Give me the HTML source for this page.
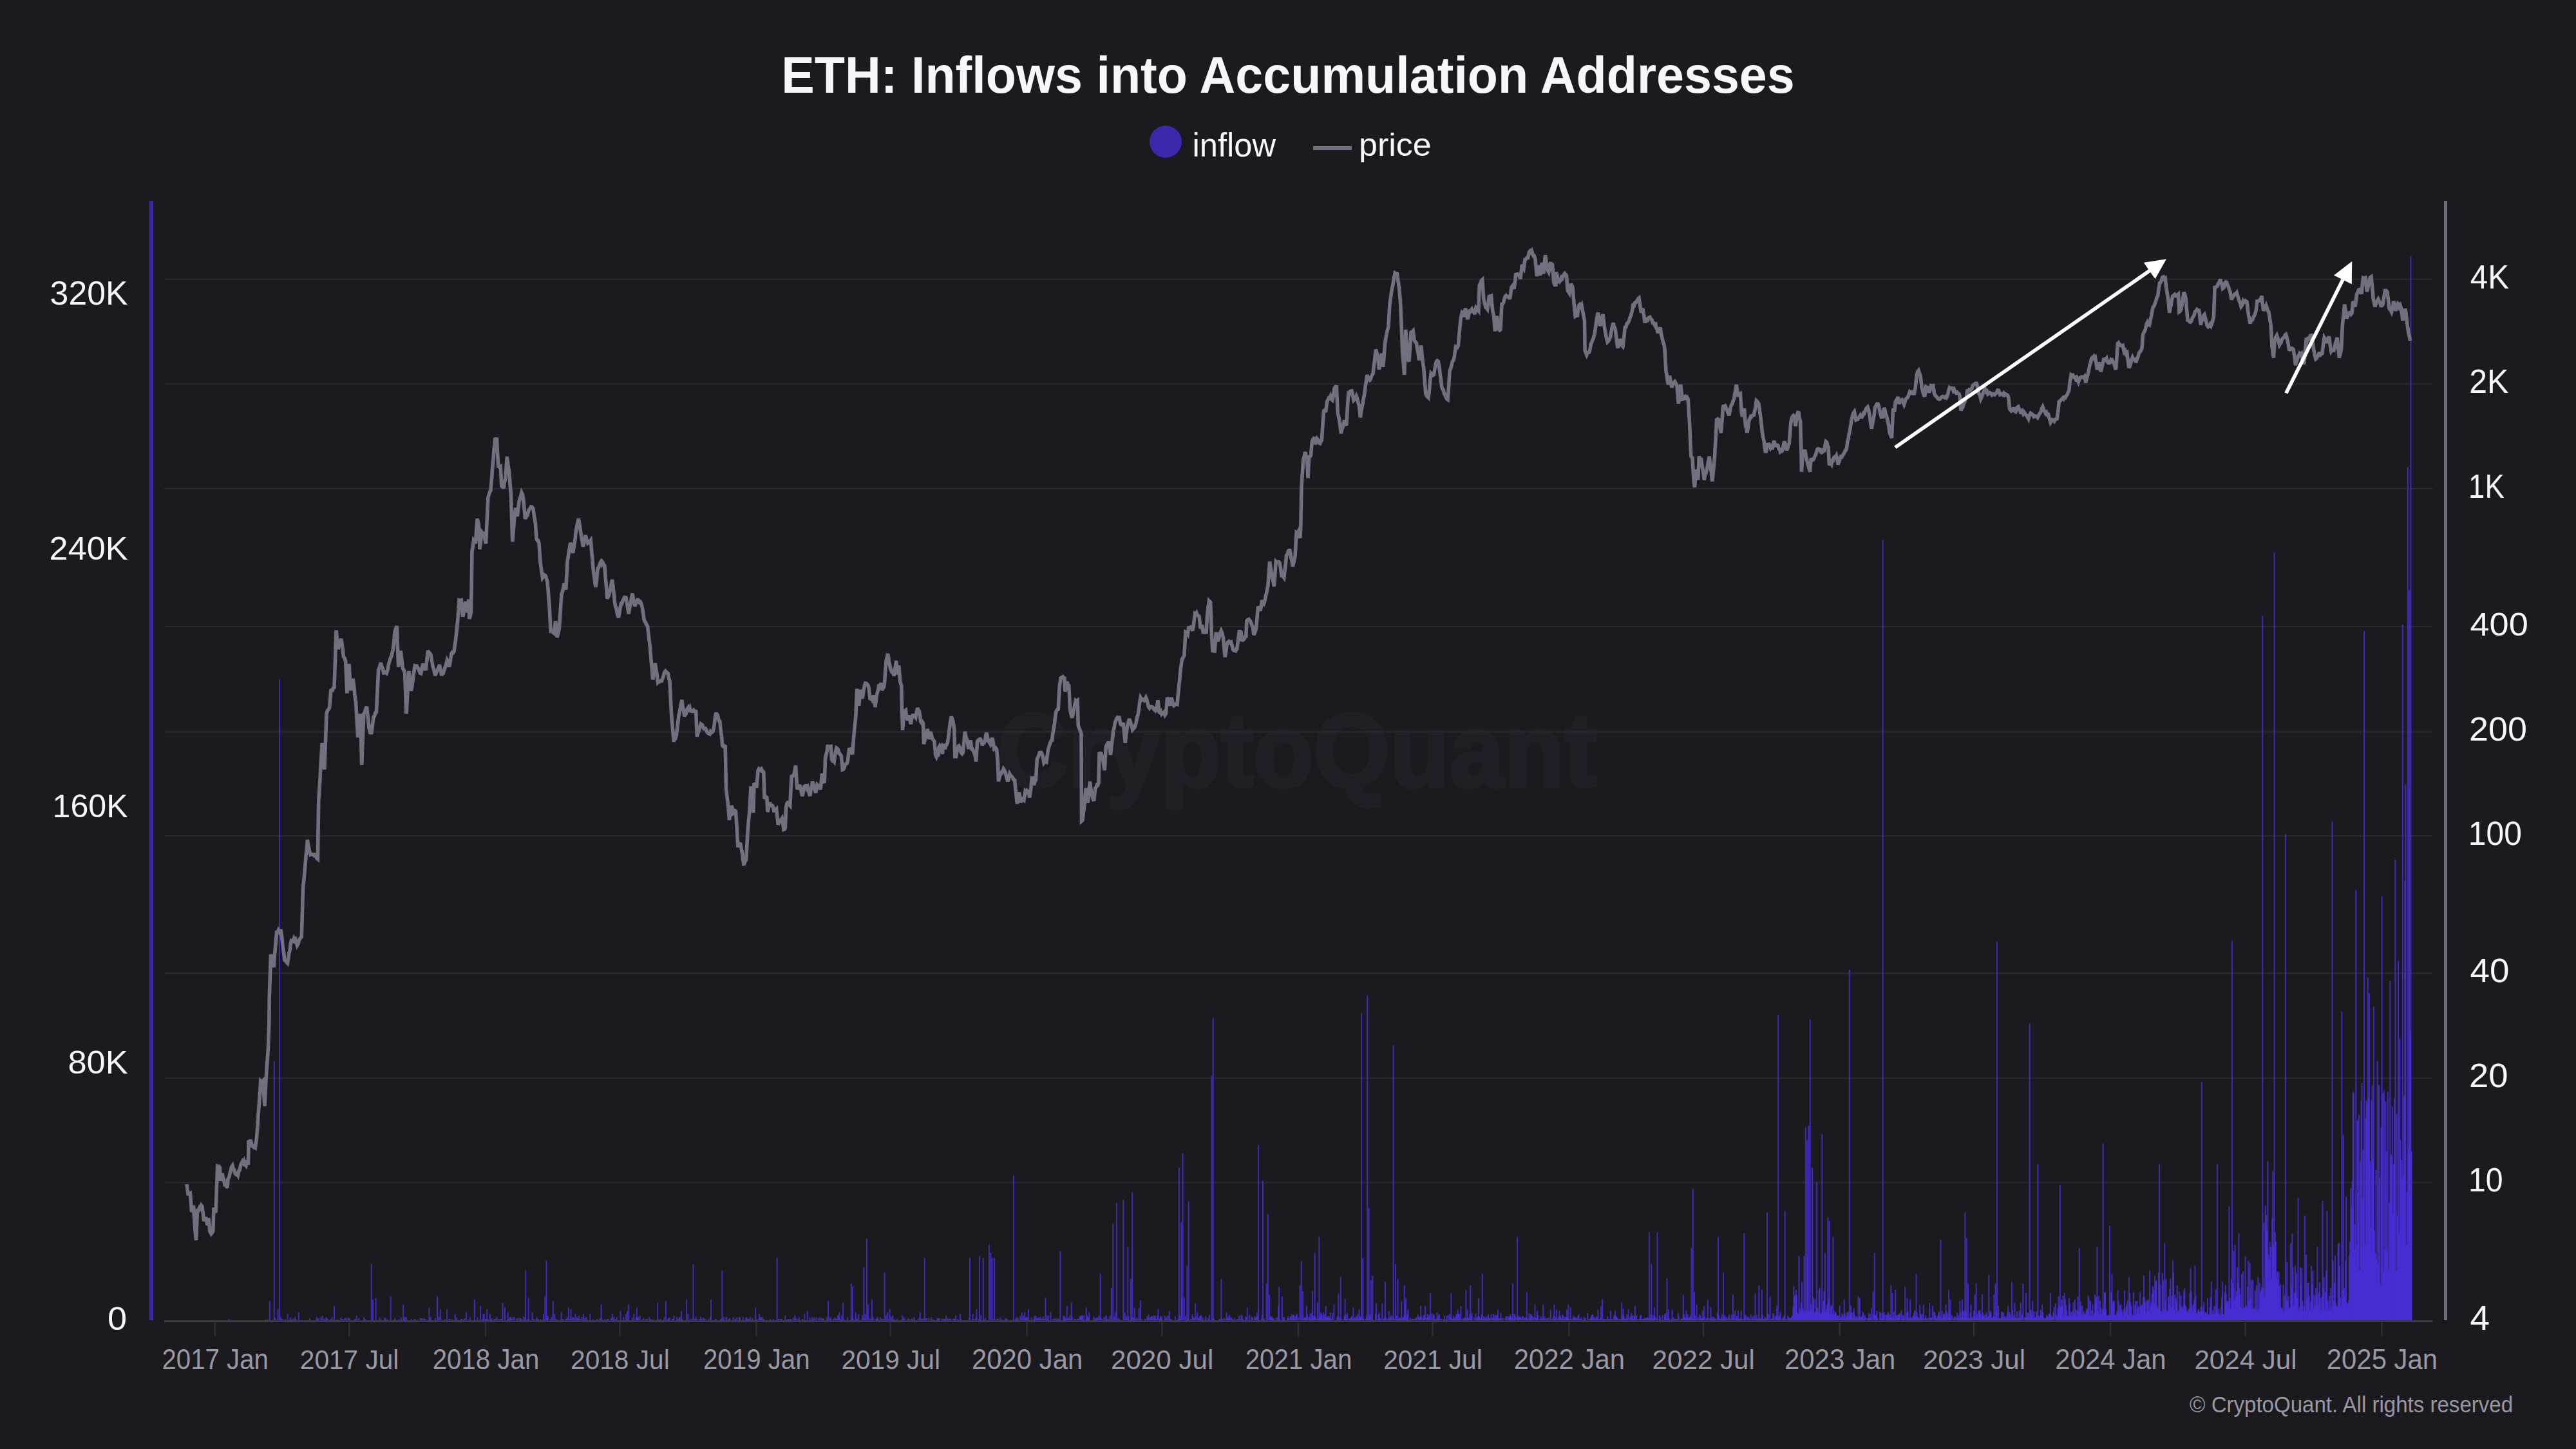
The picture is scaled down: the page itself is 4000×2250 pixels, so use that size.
<!DOCTYPE html><html><head><meta charset="utf-8"><style>html,body{margin:0;padding:0;background:#1b1a1f;}svg{display:block}text{font-family:"Liberation Sans",sans-serif}</style></head><body>
<svg width="4000" height="2250" viewBox="0 0 4000 2250">
<rect width="4000" height="2250" fill="#1b1a1f"/>
<text transform="matrix(0.8961 0 0 0.9545 1548.73 1220.59)" font-size="170" font-weight="bold" fill="#1f1f25" stroke="#1f1f25" stroke-width="6" stroke-linejoin="round">CryptoQuant</text>
<rect x="255" y="432.7" width="3522" height="2" fill="#2a2a30"/>
<rect x="255" y="595.4" width="3522" height="2" fill="#2a2a30"/>
<rect x="255" y="757.6" width="3522" height="2" fill="#2a2a30"/>
<rect x="255" y="972.1" width="3522" height="2" fill="#2a2a30"/>
<rect x="255" y="1135.4" width="3522" height="2" fill="#2a2a30"/>
<rect x="255" y="1297.1" width="3522" height="2" fill="#2a2a30"/>
<rect x="255" y="1510.4" width="3522" height="2" fill="#2a2a30"/>
<rect x="255" y="1673.2" width="3522" height="2" fill="#2a2a30"/>
<rect x="255" y="1835.4" width="3522" height="2" fill="#2a2a30"/>
<path d="M412.0 2049.0V2050M418.9 2020.3V2050M423.5 2049.0V2050M425.8 1648.0V2050M437.3 2049.0V2050M439.6 2049.0V2050M446.6 2040.0V2050M451.2 2045.4V2050M458.1 2044.6V2050M481.1 2047.3V2050M492.6 2047.5V2050M494.9 2046.9V2050M499.5 2049.0V2050M501.8 2049.0V2050M506.4 2045.0V2050M508.7 2048.3V2050M513.3 2048.0V2050M515.6 2045.0V2050M522.6 2049.0V2050M524.9 2048.9V2050M529.5 2045.9V2050M531.8 2048.0V2050M538.7 2049.0V2050M541.0 2046.0V2050M543.3 2047.3V2050M552.5 2049.0V2050M557.1 2046.9V2050M589.4 2045.4V2050M591.7 2049.0V2050M598.6 2046.2V2050M619.3 2048.4V2050M626.2 2025.6V2050M628.5 2045.0V2050M630.8 2044.9V2050M644.6 2048.3V2050M649.2 2048.9V2050M653.8 2048.9V2050M656.1 2048.5V2050M658.4 2046.7V2050M660.7 2048.9V2050M667.7 2048.9V2050M679.2 2013.2V2050M681.5 2044.6V2050M683.8 2033.0V2050M686.1 2049.0V2050M690.7 2048.4V2050M693.0 2048.9V2050M697.6 2047.9V2050M702.2 2049.0V2050M706.8 2040.0V2050M709.1 2045.9V2050M716.0 2048.0V2050M720.6 2047.5V2050M727.5 2049.0V2050M729.8 2045.5V2050M736.8 2017.8V2050M741.4 2045.4V2050M746.0 2028.0V2050M750.6 2040.0V2050M755.2 2048.6V2050M757.5 2048.5V2050M766.7 2048.0V2050M769.0 2048.0V2050M771.3 2045.0V2050M773.6 2047.4V2050M775.9 2048.4V2050M778.2 2048.0V2050M780.5 2022.9V2050M789.7 2047.5V2050M792.0 2045.2V2050M794.3 2048.0V2050M796.6 2045.1V2050M798.9 2045.0V2050M805.8 2049.0V2050M808.2 2046.5V2050M812.8 2044.7V2050M815.1 2045.4V2050M819.7 2047.9V2050M826.6 2037.8V2050M833.5 2045.0V2050M835.8 2047.6V2050M849.6 2047.0V2050M854.2 2048.0V2050M856.5 2045.0V2050M858.8 2020.3V2050M861.1 2040.0V2050M863.4 2047.8V2050M874.9 2049.0V2050M879.5 2048.3V2050M886.5 2033.0V2050M888.8 2045.0V2050M891.1 2045.7V2050M893.4 2040.0V2050M895.7 2045.0V2050M898.0 2048.9V2050M900.3 2048.7V2050M916.4 2040.0V2050M921.0 2048.5V2050M932.5 2046.5V2050M934.8 2049.0V2050M939.4 2048.0V2050M944.0 2048.0V2050M948.6 2047.3V2050M950.9 2040.0V2050M953.3 2045.0V2050M955.6 2048.0V2050M957.9 2044.9V2050M971.7 2040.0V2050M974.0 2035.5V2050M976.3 2025.6V2050M985.5 2048.9V2050M987.8 2044.9V2050M990.1 2047.2V2050M992.4 2049.0V2050M997.0 2049.0V2050M999.3 2046.8V2050M1001.6 2048.9V2050M1003.9 2048.0V2050M1008.5 2045.6V2050M1010.8 2047.8V2050M1031.6 2045.0V2050M1033.9 2020.3V2050M1038.5 2046.4V2050M1043.1 2048.8V2050M1045.4 2048.1V2050M1054.6 2046.0V2050M1059.2 2048.7V2050M1066.1 2017.8V2050M1068.4 2040.0V2050M1079.9 2048.5V2050M1082.2 2048.6V2050M1089.1 2048.0V2050M1091.4 2046.0V2050M1093.7 2047.0V2050M1096.0 2048.4V2050M1100.7 2049.0V2050M1103.0 2045.3V2050M1112.2 2048.4V2050M1119.1 2048.6V2050M1121.4 1972.8V2050M1123.7 2045.0V2050M1128.3 2045.0V2050M1132.9 2046.8V2050M1142.1 2047.6V2050M1144.4 2045.2V2050M1149.0 2045.4V2050M1153.6 2045.4V2050M1158.2 2046.0V2050M1160.5 2047.6V2050M1162.8 2047.7V2050M1165.1 2044.7V2050M1174.4 2048.9V2050M1176.7 2048.4V2050M1179.0 2040.0V2050M1181.3 2045.0V2050M1183.6 2045.0V2050M1185.9 2048.0V2050M1206.6 1952.8V2050M1208.9 2048.0V2050M1211.2 2048.0V2050M1213.5 2047.5V2050M1231.9 2046.6V2050M1234.2 2042.7V2050M1236.5 2047.8V2050M1238.8 2048.8V2050M1241.1 2045.5V2050M1245.8 2048.0V2050M1257.3 2045.9V2050M1264.2 2045.6V2050M1271.1 2046.9V2050M1273.4 2045.5V2050M1275.7 2046.8V2050M1278.0 2047.1V2050M1284.9 2048.7V2050M1289.5 2044.8V2050M1294.1 2047.5V2050M1296.4 2045.5V2050M1298.7 2047.5V2050M1301.0 2042.6V2050M1303.3 2037.8V2050M1310.2 2047.7V2050M1321.8 1993.0V2050M1324.1 1998.0V2050M1328.7 2037.8V2050M1331.0 2047.5V2050M1333.3 2040.3V2050M1337.9 2049.0V2050M1342.5 2046.2V2050M1349.4 2049.0V2050M1354.0 2017.8V2050M1356.3 2045.5V2050M1360.9 2047.5V2050M1363.2 2047.5V2050M1372.4 2048.3V2050M1381.6 2032.9V2050M1383.9 2044.8V2050M1386.2 2042.6V2050M1388.5 2048.6V2050M1393.2 2047.5V2050M1400.1 2048.6V2050M1402.4 2048.9V2050M1404.7 2048.2V2050M1409.3 2048.4V2050M1413.9 2048.8V2050M1416.2 2047.5V2050M1418.5 2048.5V2050M1425.4 2048.6V2050M1427.7 2045.6V2050M1432.3 2049.0V2050M1434.6 2048.7V2050M1439.2 2046.7V2050M1441.5 2048.9V2050M1446.1 2045.5V2050M1448.4 2048.9V2050M1455.3 2047.1V2050M1457.6 2047.0V2050M1462.2 2047.3V2050M1466.9 2048.0V2050M1469.2 2042.6V2050M1471.5 2047.1V2050M1473.8 2048.3V2050M1476.1 2047.5V2050M1480.7 2047.5V2050M1483.0 2048.0V2050M1487.6 2048.6V2050M1492.2 2048.1V2050M1506.0 1953.3V2050M1510.6 2040.3V2050M1515.2 2047.0V2050M1519.8 2048.0V2050M1526.7 1953.3V2050M1535.9 1933.0V2050M1538.3 1945.2V2050M1540.6 1953.3V2050M1542.9 2048.8V2050M1547.5 2049.0V2050M1549.8 2048.2V2050M1561.3 2046.8V2050M1563.6 2047.5V2050M1577.4 2047.6V2050M1584.3 2043.8V2050M1586.6 2037.8V2050M1588.9 2042.6V2050M1591.2 2037.8V2050M1593.5 2045.5V2050M1605.0 2048.6V2050M1607.3 2047.3V2050M1609.7 2046.8V2050M1612.0 2048.5V2050M1614.3 2048.8V2050M1616.6 2048.7V2050M1621.2 2047.7V2050M1623.5 2015.5V2050M1625.8 2042.6V2050M1628.1 2043.3V2050M1635.0 2048.7V2050M1639.6 2048.5V2050M1641.9 2047.0V2050M1644.2 2047.5V2050M1646.5 1943.2V2050M1651.1 2043.1V2050M1653.4 2043.6V2050M1655.7 2047.8V2050M1660.3 2048.3V2050M1662.6 2048.7V2050M1664.9 2045.3V2050M1669.5 2048.0V2050M1674.1 2047.5V2050M1676.4 2043.8V2050M1678.7 2042.6V2050M1681.0 2042.6V2050M1683.4 2042.6V2050M1688.0 2042.5V2050M1690.3 2046.1V2050M1701.8 2047.8V2050M1704.1 2045.5V2050M1706.4 2042.6V2050M1708.7 1977.6V2050M1711.0 2047.3V2050M1717.9 2042.4V2050M1731.7 2037.8V2050M1734.0 1868.0V2050M1736.3 2046.7V2050M1738.6 2048.3V2050M1747.8 2048.7V2050M1752.4 2043.9V2050M1757.1 2046.1V2050M1761.7 2031.0V2050M1768.6 2031.0V2050M1770.9 2019.0V2050M1773.2 2048.4V2050M1777.8 2048.0V2050M1782.4 2047.3V2050M1787.0 2046.4V2050M1789.3 2043.7V2050M1791.6 2042.8V2050M1793.9 2043.0V2050M1796.2 2048.1V2050M1798.5 2032.7V2050M1800.8 2047.5V2050M1803.1 2047.4V2050M1810.0 2047.7V2050M1816.9 2047.7V2050M1830.8 1813.6V2050M1833.1 2047.7V2050M1844.6 2047.1V2050M1849.2 2047.8V2050M1851.5 2040.7V2050M1853.8 2046.8V2050M1856.1 2023.4V2050M1858.4 2044.4V2050M1860.7 2048.3V2050M1863.0 2043.5V2050M1865.3 2042.0V2050M1867.6 2046.0V2050M1872.2 2043.9V2050M1876.8 2048.5V2050M1881.4 1670.4V2050M1883.7 1580.7V2050M1892.9 2047.9V2050M1895.2 2047.6V2050M1897.5 2047.3V2050M1904.5 2038.0V2050M1906.8 2044.5V2050M1909.1 2041.9V2050M1913.7 2047.9V2050M1920.6 2048.5V2050M1925.2 2048.0V2050M1927.5 2041.5V2050M1929.8 2047.8V2050M1934.4 2044.3V2050M1936.7 2030.3V2050M1943.6 2044.6V2050M1948.2 2044.1V2050M1950.5 2047.1V2050M1952.8 2044.6V2050M1959.7 2041.8V2050M1966.6 1993.0V2050M1968.9 1885.4V2050M1971.2 2010.3V2050M1973.5 2044.0V2050M1975.9 2046.0V2050M1978.2 2047.6V2050M1985.1 2027.6V2050M1987.4 2048.0V2050M1994.3 2045.7V2050M1998.9 2046.7V2050M2001.2 2047.7V2050M2003.5 2044.1V2050M2005.8 2040.7V2050M2008.1 2041.6V2050M2010.4 2047.5V2050M2012.7 2041.8V2050M2021.9 2047.9V2050M2024.2 2047.3V2050M2026.5 2047.1V2050M2028.8 2027.6V2050M2033.4 2045.0V2050M2035.7 2047.2V2050M2038.0 2005.0V2050M2040.3 2042.5V2050M2042.6 2044.6V2050M2047.3 2047.9V2050M2049.6 2044.7V2050M2051.9 2040.2V2050M2054.2 2047.9V2050M2056.5 2040.5V2050M2058.8 2027.6V2050M2061.1 2045.4V2050M2063.4 2045.6V2050M2065.7 2038.4V2050M2068.0 2046.8V2050M2077.2 2043.2V2050M2081.8 1982.7V2050M2086.4 2048.0V2050M2088.7 2017.2V2050M2091.0 2048.0V2050M2095.6 2048.0V2050M2097.9 2045.3V2050M2100.2 2047.5V2050M2102.5 2047.8V2050M2104.8 2046.9V2050M2107.1 2045.3V2050M2109.4 2047.5V2050M2111.7 2043.5V2050M2114.0 1573.2V2050M2116.3 1953.4V2050M2121.0 2047.9V2050M2123.3 1545.5V2050M2125.6 1875.7V2050M2127.9 2045.6V2050M2137.1 2023.4V2050M2139.4 2047.9V2050M2141.7 2039.3V2050M2144.0 2047.3V2050M2146.3 2023.4V2050M2148.6 2047.8V2050M2150.9 1990.6V2050M2155.5 2047.2V2050M2157.8 2047.8V2050M2160.1 2042.1V2050M2162.4 2044.6V2050M2164.7 2047.7V2050M2167.0 1963.0V2050M2169.3 2048.1V2050M2171.6 2047.7V2050M2173.9 2045.7V2050M2176.2 2020.7V2050M2178.5 2044.5V2050M2180.8 1995.5V2050M2183.1 2015.5V2050M2185.4 2040.3V2050M2190.0 2045.7V2050M2192.4 2047.9V2050M2194.7 2047.9V2050M2197.0 2048.0V2050M2199.3 2045.8V2050M2201.6 2040.7V2050M2203.9 2045.1V2050M2206.2 2027.6V2050M2210.8 2042.2V2050M2213.1 2027.6V2050M2215.4 2046.5V2050M2217.7 2046.0V2050M2220.0 2047.1V2050M2226.9 2042.2V2050M2231.5 2038.0V2050M2233.8 2042.5V2050M2238.4 2048.1V2050M2243.0 2043.0V2050M2245.3 2048.1V2050M2252.2 2046.0V2050M2254.5 2048.0V2050M2256.8 2042.8V2050M2259.1 2047.5V2050M2261.4 2040.3V2050M2263.7 2033.5V2050M2266.1 2040.0V2050M2268.4 2028.2V2050M2273.0 2047.7V2050M2275.3 2047.3V2050M2277.6 2045.8V2050M2279.9 2046.7V2050M2282.2 2040.2V2050M2284.5 2043.2V2050M2289.1 2045.7V2050M2291.4 2039.0V2050M2293.7 2045.6V2050M2296.0 2015.6V2050M2298.3 2046.5V2050M2300.6 2040.4V2050M2302.9 2048.2V2050M2305.2 2048.1V2050M2307.5 2046.9V2050M2309.8 2048.3V2050M2312.1 2046.4V2050M2314.4 2046.4V2050M2319.0 2040.1V2050M2321.3 2042.0V2050M2323.6 2041.7V2050M2325.9 2033.5V2050M2328.2 2047.5V2050M2330.5 2039.0V2050M2337.4 2047.0V2050M2339.8 2044.0V2050M2342.1 2044.6V2050M2344.4 2043.4V2050M2346.7 2044.2V2050M2349.0 1993.0V2050M2351.3 2040.3V2050M2353.6 2045.6V2050M2355.9 1920.5V2050M2358.2 2043.6V2050M2360.5 2044.3V2050M2365.1 2044.1V2050M2367.4 2045.8V2050M2369.7 2045.2V2050M2372.0 2047.7V2050M2374.3 2039.0V2050M2376.6 2040.5V2050M2378.9 2043.8V2050M2381.2 2044.6V2050M2383.5 2025.6V2050M2385.8 2047.3V2050M2388.1 2042.4V2050M2390.4 2048.2V2050M2392.7 2044.1V2050M2395.0 2048.4V2050M2399.6 2047.5V2050M2401.9 2046.7V2050M2408.8 2048.3V2050M2411.2 2047.0V2050M2413.5 2025.6V2050M2415.8 2044.6V2050M2420.4 2044.5V2050M2422.7 2043.1V2050M2425.0 2048.5V2050M2427.3 2042.8V2050M2429.6 2044.8V2050M2431.9 2044.8V2050M2434.2 2046.1V2050M2436.5 2047.9V2050M2438.8 2030.0V2050M2443.4 2042.6V2050M2445.7 2044.9V2050M2448.0 2046.6V2050M2450.3 2043.8V2050M2452.6 2048.5V2050M2454.9 2045.6V2050M2459.5 2044.9V2050M2461.8 2046.2V2050M2471.0 2042.8V2050M2473.3 2040.9V2050M2475.6 2045.3V2050M2480.2 2045.9V2050M2484.9 2046.2V2050M2487.2 2048.5V2050M2489.5 2048.4V2050M2494.1 2047.9V2050M2496.4 2044.0V2050M2498.7 2048.3V2050M2501.0 2035.3V2050M2503.3 2047.9V2050M2505.6 2045.3V2050M2507.9 2035.3V2050M2510.2 2044.4V2050M2517.1 2048.0V2050M2519.4 2040.9V2050M2521.7 2044.4V2050M2524.0 2047.3V2050M2526.3 2040.8V2050M2528.6 2033.5V2050M2530.9 2046.4V2050M2533.2 2039.0V2050M2535.5 2042.5V2050M2537.8 2042.8V2050M2540.1 2044.3V2050M2542.4 2048.2V2050M2547.0 2042.7V2050M2549.3 2048.3V2050M2551.6 2048.1V2050M2553.9 2046.1V2050M2556.2 2046.3V2050M2558.6 2045.4V2050M2560.9 1913.3V2050M2563.2 2041.3V2050M2565.5 2047.3V2050M2567.8 2047.7V2050M2570.1 2044.4V2050M2572.4 2047.1V2050M2574.7 2048.3V2050M2577.0 2042.3V2050M2581.6 2041.9V2050M2586.2 2039.0V2050M2588.5 1985.0V2050M2590.8 2033.5V2050M2595.4 2047.3V2050M2600.0 2048.4V2050M2602.3 2047.7V2050M2604.6 2048.3V2050M2606.9 2044.1V2050M2611.5 2047.5V2050M2613.8 2010.2V2050M2616.1 2045.2V2050M2618.4 2035.3V2050M2620.7 2040.6V2050M2623.0 2046.6V2050M2625.3 2042.2V2050M2627.6 2048.3V2050M2630.0 2048.3V2050M2632.3 2042.7V2050M2634.6 2025.6V2050M2636.9 2045.5V2050M2639.2 2040.4V2050M2641.5 2046.5V2050M2643.8 2035.3V2050M2646.1 2028.2V2050M2650.7 2046.2V2050M2655.3 2047.2V2050M2657.6 2047.0V2050M2659.9 2048.1V2050M2662.2 2046.6V2050M2666.8 2039.0V2050M2669.1 2041.6V2050M2671.4 2047.9V2050M2673.7 2040.8V2050M2676.0 1976.0V2050M2678.3 2041.4V2050M2680.6 2045.2V2050M2685.2 2041.0V2050M2687.5 2047.4V2050M2689.8 2048.3V2050M2692.1 2040.5V2050M2694.4 2035.3V2050M2696.7 2043.3V2050M2699.0 2035.3V2050M2701.3 2048.0V2050M2703.7 2035.3V2050M2708.3 1915.0V2050M2710.6 2041.6V2050M2712.9 2044.6V2050M2715.2 2044.6V2050M2722.1 2047.4V2050M2726.7 2048.1V2050M2729.0 2047.7V2050M2731.3 1995.8V2050M2733.6 2047.5V2050M2735.9 2003.0V2050M2738.2 2047.9V2050M2740.5 2045.0V2050M2742.8 2047.3V2050M2745.1 2039.9V2050M2749.7 2048.2V2050M2752.0 2046.7V2050M2754.3 2041.1V2050M2756.6 2044.5V2050M2758.9 2027.4V2050M2761.2 1576.0V2050M2763.5 2042.1V2050M2765.8 2048.0V2050M2768.1 2046.5V2050M2770.4 2042.8V2050M2772.7 2048.2V2050M2777.4 2045.1V2050M2779.7 2047.8V2050M2782.0 2045.1V2050M2784.3 2028.6V2050M2786.6 2013.0V2050M2788.9 2003.0V2050M2791.2 2039.0V2050M2793.5 1950.0V2050M2795.8 2035.4V2050M2798.1 1990.7V2050M2800.4 2034.8V2050M2802.7 2036.2V2050M2805.0 2034.3V2050M2807.3 2032.8V2050M2809.6 2036.5V2050M2811.9 2025.3V2050M2814.2 1813.0V2050M2816.5 2017.4V2050M2818.8 2036.5V2050M2821.1 1835.4V2050M2823.4 2037.9V2050M2825.7 1999.6V2050M2828.0 2039.2V2050M2830.3 2032.2V2050M2832.6 2004.7V2050M2834.9 2037.3V2050M2837.2 2025.1V2050M2839.5 2016.9V2050M2841.8 2040.9V2050M2844.1 2026.6V2050M2846.4 1920.4V2050M2848.8 2040.9V2050M2851.1 2039.0V2050M2853.4 2042.5V2050M2855.7 2047.5V2050M2858.0 2046.2V2050M2860.3 2039.2V2050M2862.6 2045.0V2050M2864.9 2039.5V2050M2867.2 2043.0V2050M2869.5 2044.8V2050M2871.8 1505.8V2050M2874.1 2027.4V2050M2876.4 2046.9V2050M2878.7 2031.3V2050M2881.0 2047.5V2050M2883.3 2044.7V2050M2885.6 2013.0V2050M2887.9 2015.8V2050M2890.2 2044.8V2050M2892.5 2036.8V2050M2894.8 2046.8V2050M2897.1 2046.0V2050M2899.4 2047.5V2050M2901.7 2038.7V2050M2904.0 2039.8V2050M2906.3 2031.3V2050M2908.6 2005.4V2050M2910.9 1945.5V2050M2913.2 2042.4V2050M2915.5 2046.8V2050M2920.1 2039.0V2050M2922.5 2038.7V2050M2924.8 2040.7V2050M2929.4 2041.4V2050M2931.7 2037.2V2050M2934.0 2046.9V2050M2936.3 1995.7V2050M2938.6 2008.1V2050M2940.9 2036.8V2050M2943.2 2003.0V2050M2945.5 2046.0V2050M2947.8 2041.5V2050M2950.1 2039.0V2050M2952.4 2034.8V2050M2954.7 2042.2V2050M2957.0 2047.4V2050M2961.6 2015.8V2050M2963.9 2047.4V2050M2966.2 2017.8V2050M2968.5 2047.3V2050M2970.8 2042.7V2050M2973.1 2034.9V2050M2975.4 1978.0V2050M2977.7 2044.3V2050M2980.0 2047.3V2050M2982.3 2039.6V2050M2984.6 2040.1V2050M2986.9 2025.5V2050M2989.2 2047.0V2050M2991.5 2047.1V2050M2993.8 2046.4V2050M2996.2 2022.8V2050M2998.5 2046.1V2050M3000.8 2027.4V2050M3003.1 2036.0V2050M3005.4 2042.8V2050M3007.7 2047.1V2050M3010.0 2038.9V2050M3012.3 2044.0V2050M3014.6 2047.3V2050M3016.9 2047.1V2050M3019.2 2039.3V2050M3021.5 2025.5V2050M3023.8 2039.3V2050M3026.1 2003.0V2050M3028.4 2017.8V2050M3030.7 2042.0V2050M3033.0 2046.5V2050M3035.3 2044.0V2050M3039.9 2047.1V2050M3042.2 2047.2V2050M3044.5 2037.7V2050M3046.8 2017.8V2050M3049.1 2047.2V2050M3051.4 1882.5V2050M3053.7 1922.3V2050M3056.0 1992.7V2050M3058.3 2047.2V2050M3060.6 2025.5V2050M3062.9 2047.2V2050M3065.2 2034.7V2050M3067.6 2044.0V2050M3069.9 2040.5V2050M3072.2 2035.0V2050M3074.5 2033.7V2050M3076.8 2046.6V2050M3079.1 2038.1V2050M3081.4 2041.4V2050M3083.7 2041.4V2050M3086.0 2045.9V2050M3088.3 1980.3V2050M3090.6 2035.4V2050M3092.9 2046.5V2050M3095.2 2044.0V2050M3097.5 2044.5V2050M3099.8 2036.1V2050M3102.1 2047.1V2050M3104.4 2046.8V2050M3106.7 2047.1V2050M3109.0 2036.7V2050M3111.3 2038.2V2050M3113.6 2044.1V2050M3115.9 2044.5V2050M3118.2 2027.4V2050M3120.5 2037.0V2050M3122.8 2047.1V2050M3125.1 2034.3V2050M3127.4 2042.6V2050M3129.7 2046.5V2050M3132.0 2036.1V2050M3134.3 2046.2V2050M3136.6 2046.0V2050M3138.9 2046.1V2050M3141.3 1992.7V2050M3143.6 2046.1V2050M3145.9 2008.1V2050M3148.2 2038.2V2050M3150.5 2045.1V2050M3152.8 2032.9V2050M3155.1 2042.1V2050M3157.4 2046.2V2050M3159.7 2046.3V2050M3162.0 2036.5V2050M3164.3 1808.0V2050M3166.6 2046.2V2050M3168.9 2033.7V2050M3171.2 2025.5V2050M3173.5 2046.3V2050M3175.8 2046.9V2050M3178.1 2041.6V2050M3180.4 2045.7V2050M3182.7 2039.0V2050M3185.0 2042.5V2050M3187.3 2044.0V2050M3189.6 2029.3V2050M3191.9 2024.0V2050M3194.2 2045.0V2050M3196.5 2013.0V2050M3198.8 1840.0V2050M3201.1 2017.8V2050M3203.4 2012.2V2050M3205.7 2008.1V2050M3208.0 2026.4V2050M3210.3 2043.0V2050M3212.7 2015.6V2050M3215.0 2042.4V2050M3217.3 2042.8V2050M3219.6 2021.9V2050M3221.9 2017.8V2050M3224.2 2043.1V2050M3226.5 2013.0V2050M3228.8 1937.8V2050M3231.1 2021.3V2050M3233.4 2027.4V2050M3235.7 2036.5V2050M3238.0 2040.6V2050M3240.3 2031.4V2050M3242.6 2011.5V2050M3244.9 2043.0V2050M3247.2 2042.9V2050M3249.5 2025.5V2050M3251.8 2039.4V2050M3254.1 2017.0V2050M3256.4 1936.0V2050M3258.7 2012.4V2050M3261.0 2019.6V2050M3263.3 2040.7V2050M3265.6 1775.5V2050M3267.9 2007.0V2050M3270.2 2033.3V2050M3272.5 2042.3V2050M3274.8 2041.3V2050M3277.1 2041.9V2050M3279.4 1978.4V2050M3281.7 2019.9V2050M3284.0 2042.0V2050M3286.4 2039.6V2050M3288.7 2003.4V2050M3291.0 2036.6V2050M3293.3 2024.9V2050M3295.6 2036.8V2050M3297.9 2032.7V2050M3300.2 2036.4V2050M3302.5 2024.8V2050M3304.8 2042.0V2050M3307.1 2008.3V2050M3309.4 2027.3V2050M3311.7 2042.3V2050M3314.0 2042.3V2050M3316.3 2019.8V2050M3318.6 2019.7V2050M3320.9 2028.2V2050M3323.2 2005.8V2050M3325.5 2026.5V2050M3327.8 2014.6V2050M3330.1 2015.2V2050M3332.4 2038.0V2050M3334.7 2019.8V2050M3337.0 2034.8V2050M3339.3 2030.2V2050M3341.6 2009.5V2050M3343.9 2001.0V2050M3346.2 1980.9V2050M3348.5 1988.2V2050M3350.8 2031.3V2050M3353.1 1808.3V2050M3355.4 2036.5V2050M3357.7 1977.0V2050M3360.1 2034.4V2050M3362.4 2019.9V2050M3364.7 2035.2V2050M3367.0 2013.3V2050M3369.3 2001.3V2050M3371.6 2030.7V2050M3373.9 1957.8V2050M3376.2 2033.6V2050M3378.5 2016.0V2050M3380.8 1996.0V2050M3383.1 2035.6V2050M3385.4 2025.6V2050M3387.7 2031.0V2050M3390.0 2032.5V2050M3392.3 2000.4V2050M3394.6 2028.9V2050M3396.9 2037.9V2050M3399.2 2032.4V2050M3401.5 1968.4V2050M3403.8 2026.7V2050M3406.1 2025.1V2050M3408.4 1965.4V2050M3410.7 2040.6V2050M3413.0 2034.2V2050M3415.3 2037.3V2050M3417.6 2029.1V2050M3419.9 2036.7V2050M3422.2 2021.7V2050M3424.5 2037.3V2050M3426.8 2041.3V2050M3429.1 2040.9V2050M3431.5 2030.7V2050M3433.8 1990.6V2050M3436.1 2034.5V2050M3438.4 2028.3V2050M3440.7 2002.2V2050M3443.0 1808.3V2050M3445.3 2032.4V2050M3447.6 2040.5V2050M3449.9 2013.7V2050M3452.2 2041.0V2050M3454.5 2006.3V2050M3456.8 2009.4V2050M3459.1 2020.0V2050M3461.4 1873.0V2050M3463.7 2031.9V2050M3466.0 1461.5V2050M3468.3 1942.6V2050M3470.6 1932.9V2050M3472.9 2005.3V2050M3475.2 1990.9V2050M3477.5 1999.8V2050M3479.8 2030.0V2050M3482.1 2032.7V2050M3484.4 2030.1V2050M3486.7 1950.5V2050M3489.0 2030.7V2050M3491.3 1957.8V2050M3493.6 1961.3V2050M3495.9 1987.7V2050M3498.2 1987.1V2050M3500.5 2031.2V2050M3502.8 2034.2V2050M3505.2 2035.5V2050M3507.5 2033.0V2050M3509.8 2006.7V2050M3512.1 1998.1V2050M3514.4 2000.3V2050M3516.7 2014.2V2050M3519.0 1886.4V2050M3521.3 1803.3V2050M3523.6 1955.0V2050M3525.9 1936.3V2050M3528.2 1892.7V2050M3530.5 1933.3V2050M3532.8 1913.2V2050M3535.1 1985.0V2050M3537.4 1986.2V2050M3539.7 1998.0V2050M3542.0 2031.1V2050M3544.3 2033.5V2050M3546.6 2036.3V2050M3548.9 1295.0V2050M3551.2 1959.8V2050M3553.5 2012.6V2050M3555.8 2031.5V2050M3558.1 1998.5V2050M3560.4 1968.4V2050M3562.7 2008.6V2050M3565.0 2006.3V2050M3567.3 2016.1V2050M3569.6 2035.0V2050M3571.9 1968.0V2050M3574.2 1969.3V2050M3576.5 2035.7V2050M3578.9 1887.6V2050M3581.2 1948.2V2050M3583.5 1992.3V2050M3585.8 2012.5V2050M3588.1 2022.1V2050M3590.4 1993.8V2050M3592.7 2032.0V2050M3595.0 2026.5V2050M3597.3 2009.0V2050M3599.6 2026.2V2050M3601.9 1990.7V2050M3604.2 2033.9V2050M3606.5 1865.1V2050M3608.8 1982.7V2050M3611.1 2005.8V2050M3613.4 1880.6V2050M3615.7 2032.4V2050M3618.0 2033.5V2050M3620.3 2030.4V2050M3622.6 1957.4V2050M3624.9 1991.4V2050M3627.2 2023.6V2050M3629.5 2028.3V2050M3631.8 1929.5V2050M3634.1 2014.3V2050M3636.4 1570.7V2050M3638.7 1762.8V2050M3641.0 2013.2V2050M3643.3 1858.2V2050M3645.6 2025.1V2050M3647.9 1948.8V2050M3650.3 1845.0V2050M3652.6 1833.2V2050M3654.9 1697.0V2050M3657.2 1901.0V2050M3659.5 1934.3V2050M3661.8 1849.9V2050M3664.1 1972.2V2050M3666.4 1710.6V2050M3668.7 1861.2V2050M3671.0 980.0V2050M3673.3 1736.8V2050M3675.6 1713.8V2050M3677.9 1702.7V2050M3680.2 1802.9V2050M3682.5 1708.6V2050M3684.8 1799.1V2050M3687.1 1911.2V2050M3689.4 1817.1V2050M3691.7 1647.6V2050M3694.0 1684.4V2050M3696.3 1994.3V2050M3698.6 1392.0V2050M3700.9 1975.4V2050M3703.2 1940.9V2050M3705.5 1788.2V2050M3707.8 1695.0V2050M3710.1 1867.7V2050M3712.4 1792.9V2050M3714.7 1718.3V2050M3717.0 1808.1V2050M3719.3 1335.0V2050M3721.6 1729.9V2050M3724.0 1492.0V2050M3726.3 1613.2V2050M3728.6 1800.9V2050M3730.9 970.0V2050M3733.2 1701.7V2050M3735.5 1218.0V2050M3737.8 1850.2V2050M3740.1 1781.8V2050M3742.4 1601.0V2050M3744.7 1788.3V2050" stroke="#4a2fe6" stroke-opacity="0.78" stroke-width="2.0" fill="none"/>
<path d="M355.6 2048.0V2050M415.5 2048.9V2050M427.0 2046.0V2050M429.3 2049.0V2050M431.6 2033.0V2050M433.9 1055.0V2050M436.2 2045.3V2050M438.5 2048.2V2050M443.1 2048.5V2050M450.0 2049.0V2050M454.6 2047.3V2050M459.2 2047.8V2050M463.8 2037.8V2050M491.5 2045.0V2050M498.4 2045.0V2050M500.7 2043.0V2050M503.0 2047.5V2050M507.6 2047.1V2050M519.1 2027.7V2050M532.9 2049.0V2050M535.2 2046.8V2050M537.5 2046.3V2050M542.1 2049.0V2050M551.3 2048.1V2050M553.7 2042.7V2050M556.0 2048.8V2050M565.2 2045.2V2050M567.5 2048.2V2050M576.7 1963.0V2050M579.0 2017.8V2050M583.6 2015.5V2050M597.4 2046.2V2050M599.7 2048.6V2050M602.0 2049.0V2050M606.6 2013.2V2050M611.2 2048.9V2050M613.5 2046.7V2050M622.7 2045.8V2050M627.4 2047.8V2050M638.9 2047.8V2050M643.5 2048.1V2050M652.7 2046.4V2050M655.0 2047.0V2050M659.6 2047.9V2050M666.5 2030.4V2050M668.8 2045.0V2050M675.7 2046.6V2050M694.1 2033.0V2050M698.8 2048.0V2050M703.4 2049.0V2050M708.0 2048.9V2050M712.6 2049.0V2050M717.2 2048.1V2050M721.8 2046.9V2050M724.1 2037.8V2050M749.4 2048.0V2050M751.7 2040.0V2050M754.0 2048.0V2050M756.3 2033.0V2050M760.9 2040.0V2050M763.2 2047.1V2050M777.1 2048.9V2050M779.4 2048.8V2050M784.0 2030.4V2050M788.6 2037.8V2050M793.2 2045.0V2050M802.4 2047.2V2050M804.7 2046.8V2050M807.0 2049.0V2050M809.3 2048.0V2050M816.2 1972.8V2050M820.8 2015.5V2050M827.7 2047.3V2050M830.0 2049.0V2050M832.3 2048.2V2050M839.2 2048.0V2050M843.8 2040.0V2050M846.2 2013.2V2050M848.5 1957.6V2050M850.8 2043.0V2050M855.4 2048.8V2050M860.0 2049.0V2050M864.6 2049.0V2050M871.5 2037.8V2050M873.8 2048.0V2050M878.4 2048.0V2050M880.7 2045.0V2050M883.0 2030.4V2050M885.3 2047.7V2050M892.2 2049.0V2050M896.8 2046.4V2050M899.1 2043.0V2050M901.4 2048.0V2050M903.7 2045.0V2050M906.0 2040.0V2050M908.3 2046.8V2050M910.6 2045.0V2050M926.8 2047.7V2050M931.4 2048.0V2050M933.7 2025.6V2050M942.9 2047.8V2050M945.2 2049.0V2050M949.8 2046.6V2050M952.1 2048.9V2050M963.6 2035.5V2050M968.2 2045.0V2050M982.0 2046.6V2050M984.3 2040.0V2050M988.9 2030.4V2050M991.3 2045.0V2050M993.6 2043.0V2050M998.2 2048.9V2050M1002.8 2049.0V2050M1005.1 2047.7V2050M1014.3 2049.0V2050M1021.2 2022.9V2050M1023.5 2049.0V2050M1025.8 2048.0V2050M1030.4 2049.0V2050M1037.3 2047.8V2050M1039.6 2046.1V2050M1044.2 2048.0V2050M1046.5 2043.0V2050M1051.1 2045.0V2050M1053.4 2048.0V2050M1055.7 2045.0V2050M1058.0 2035.5V2050M1060.3 2048.7V2050M1071.9 2048.5V2050M1074.2 2047.7V2050M1076.5 1963.0V2050M1078.8 2047.4V2050M1081.1 2045.0V2050M1085.7 2048.0V2050M1088.0 2045.1V2050M1092.6 2049.0V2050M1099.5 2048.9V2050M1104.1 2017.8V2050M1111.0 2048.3V2050M1120.2 2047.2V2050M1127.1 2046.5V2050M1131.7 2048.0V2050M1138.7 2045.1V2050M1141.0 2049.0V2050M1147.9 2044.8V2050M1159.4 2045.5V2050M1164.0 2049.0V2050M1168.6 2047.1V2050M1173.2 2030.4V2050M1180.1 2047.6V2050M1182.4 2047.1V2050M1196.2 2048.0V2050M1200.8 2048.0V2050M1214.7 2049.0V2050M1219.3 2042.7V2050M1221.6 2048.7V2050M1223.9 2048.0V2050M1226.2 2048.0V2050M1228.5 2048.0V2050M1235.4 2046.3V2050M1240.0 2048.6V2050M1246.9 2049.0V2050M1249.2 2040.0V2050M1253.8 2035.4V2050M1260.7 2045.6V2050M1263.0 2047.3V2050M1265.3 2049.0V2050M1267.6 2045.5V2050M1274.5 2048.9V2050M1276.8 2049.0V2050M1279.1 2047.5V2050M1283.8 2045.5V2050M1286.1 2020.3V2050M1288.4 2047.3V2050M1290.7 2047.5V2050M1295.3 2048.8V2050M1297.6 2048.7V2050M1299.9 2048.7V2050M1302.2 2045.5V2050M1304.5 2048.1V2050M1306.8 2042.6V2050M1309.1 2022.8V2050M1316.0 2045.5V2050M1322.9 2046.4V2050M1325.2 2048.2V2050M1329.8 2048.0V2050M1339.0 2042.6V2050M1341.3 1967.9V2050M1343.6 2040.3V2050M1345.9 1922.9V2050M1348.2 2025.2V2050M1350.5 2047.4V2050M1352.8 2047.5V2050M1355.2 2048.8V2050M1359.8 2048.3V2050M1362.1 2044.9V2050M1366.7 2045.5V2050M1369.0 2047.5V2050M1371.3 2048.4V2050M1373.6 1975.7V2050M1375.9 2042.6V2050M1378.2 2037.8V2050M1380.5 2048.1V2050M1401.2 2042.6V2050M1403.5 2045.5V2050M1410.4 2046.9V2050M1412.7 2049.0V2050M1419.6 2045.2V2050M1428.9 2037.8V2050M1431.2 2047.5V2050M1433.5 2047.5V2050M1435.8 1953.3V2050M1438.1 2046.9V2050M1442.7 2046.8V2050M1447.3 2048.7V2050M1449.6 2049.0V2050M1456.5 2047.5V2050M1458.8 2047.5V2050M1463.4 2048.3V2050M1465.7 2047.5V2050M1468.0 2049.0V2050M1472.6 2049.0V2050M1474.9 2047.6V2050M1479.5 2048.4V2050M1481.8 2048.4V2050M1484.1 2042.6V2050M1486.4 2048.8V2050M1491.0 2040.3V2050M1504.9 2046.0V2050M1509.5 2049.0V2050M1511.8 2048.5V2050M1514.1 2048.9V2050M1516.4 2032.9V2050M1521.0 1950.4V2050M1523.3 2042.6V2050M1527.9 2048.6V2050M1530.2 2046.8V2050M1544.0 1953.3V2050M1546.3 2049.0V2050M1548.6 2047.5V2050M1553.2 2045.7V2050M1555.5 2048.8V2050M1562.4 2048.6V2050M1574.0 1825.2V2050M1576.3 2048.9V2050M1578.6 2045.5V2050M1580.9 2046.8V2050M1587.8 2048.8V2050M1592.4 2047.0V2050M1594.7 2044.9V2050M1597.0 2032.9V2050M1601.6 2045.9V2050M1606.2 2043.5V2050M1608.5 2042.6V2050M1610.8 2046.4V2050M1613.1 2045.5V2050M1615.4 2043.9V2050M1617.7 2047.3V2050M1620.0 2044.2V2050M1631.5 2037.8V2050M1633.8 2048.8V2050M1636.1 2048.0V2050M1638.4 2047.1V2050M1652.3 2045.6V2050M1654.6 2046.7V2050M1656.9 2028.0V2050M1659.2 2046.2V2050M1661.5 2042.6V2050M1663.8 2022.8V2050M1668.4 2047.5V2050M1670.7 2048.7V2050M1673.0 2048.1V2050M1677.6 2045.1V2050M1679.9 2042.9V2050M1686.8 2030.6V2050M1689.1 2045.5V2050M1691.4 2037.8V2050M1698.3 2044.2V2050M1700.6 2045.9V2050M1702.9 2046.4V2050M1707.5 2046.4V2050M1714.4 2045.2V2050M1716.7 2043.8V2050M1719.1 2048.3V2050M1721.4 2047.5V2050M1723.7 2042.6V2050M1726.0 2000.0V2050M1728.3 1900.5V2050M1730.6 2044.4V2050M1744.4 1863.0V2050M1746.7 2037.8V2050M1749.0 2043.8V2050M1751.3 1936.0V2050M1755.9 1986.0V2050M1758.2 1851.0V2050M1760.5 2045.7V2050M1762.8 2048.0V2050M1765.1 2046.3V2050M1767.4 2048.6V2050M1769.7 2048.6V2050M1778.9 2048.5V2050M1781.2 2044.1V2050M1783.5 2040.7V2050M1785.8 2045.3V2050M1788.1 2043.5V2050M1792.8 2044.9V2050M1795.1 2048.6V2050M1797.4 2042.5V2050M1802.0 2043.2V2050M1804.3 2044.1V2050M1808.9 2043.2V2050M1811.2 2045.1V2050M1813.5 2043.1V2050M1815.8 2036.0V2050M1818.1 2047.9V2050M1825.0 2043.9V2050M1829.6 2047.2V2050M1831.9 2041.9V2050M1834.2 1898.0V2050M1836.5 1790.5V2050M1838.8 2015.5V2050M1841.1 2044.1V2050M1843.4 1965.5V2050M1845.7 1865.4V2050M1852.6 2044.3V2050M1854.9 2046.4V2050M1859.5 2038.0V2050M1861.8 2046.4V2050M1864.1 2043.5V2050M1871.1 2048.6V2050M1875.7 2046.6V2050M1878.0 2042.0V2050M1882.6 2048.1V2050M1884.9 2046.9V2050M1896.4 1986.0V2050M1898.7 2048.6V2050M1901.0 2046.6V2050M1903.3 2048.2V2050M1905.6 2046.9V2050M1907.9 2048.6V2050M1910.2 2046.0V2050M1912.5 2046.0V2050M1917.1 2046.8V2050M1921.7 2048.0V2050M1924.0 2043.2V2050M1928.6 2043.0V2050M1935.5 2045.7V2050M1940.2 2042.2V2050M1944.8 2045.2V2050M1949.4 2044.4V2050M1951.7 2038.0V2050M1954.0 1778.0V2050M1958.6 2048.4V2050M1960.9 1833.6V2050M1963.2 2047.3V2050M1967.8 2048.5V2050M1972.4 2045.0V2050M1974.7 2044.4V2050M1977.0 2047.6V2050M1981.6 2046.1V2050M1983.9 2046.0V2050M1986.2 1998.2V2050M1990.8 2013.0V2050M1993.1 2044.7V2050M2000.0 2044.2V2050M2004.6 2045.5V2050M2009.2 2041.6V2050M2011.6 2044.0V2050M2013.9 2039.4V2050M2016.2 2046.5V2050M2018.5 1995.5V2050M2020.8 1958.6V2050M2023.1 2005.0V2050M2025.4 2045.5V2050M2027.7 2045.2V2050M2030.0 2040.3V2050M2032.3 2044.9V2050M2034.6 2039.2V2050M2036.9 2038.9V2050M2039.2 2045.8V2050M2041.5 1945.4V2050M2043.8 2047.4V2050M2046.1 2022.4V2050M2048.4 1920.6V2050M2050.7 2037.9V2050M2053.0 2043.4V2050M2055.3 2038.1V2050M2057.6 2045.2V2050M2059.9 2045.1V2050M2062.2 2042.9V2050M2064.5 2045.6V2050M2066.8 2047.8V2050M2069.1 2039.0V2050M2071.4 2025.8V2050M2076.0 2045.6V2050M2078.3 2008.6V2050M2080.6 2045.3V2050M2083.0 2047.9V2050M2087.6 2043.2V2050M2089.9 2041.5V2050M2092.2 2038.5V2050M2094.5 2046.9V2050M2096.8 2047.3V2050M2099.1 2043.5V2050M2101.4 2030.3V2050M2103.7 2045.7V2050M2106.0 2043.8V2050M2108.3 2040.4V2050M2110.6 2032.7V2050M2112.9 2045.2V2050M2115.2 2047.6V2050M2117.5 2046.8V2050M2122.1 2042.0V2050M2124.4 2047.2V2050M2126.7 2041.5V2050M2129.0 1988.0V2050M2131.3 1981.0V2050M2135.9 2039.6V2050M2140.5 2040.5V2050M2142.8 2046.7V2050M2147.4 2048.0V2050M2149.7 2045.4V2050M2152.0 2045.4V2050M2154.3 2047.6V2050M2156.7 2036.0V2050M2159.0 2045.0V2050M2163.6 1622.8V2050M2168.2 2042.6V2050M2170.5 1986.0V2050M2172.8 2047.6V2050M2175.1 2046.1V2050M2177.4 2048.1V2050M2179.7 2046.0V2050M2182.0 2040.8V2050M2184.3 2046.1V2050M2186.6 2032.7V2050M2193.5 2047.6V2050M2198.1 2047.0V2050M2202.7 2045.8V2050M2205.0 2046.2V2050M2207.3 2044.3V2050M2209.6 2046.3V2050M2211.9 2041.8V2050M2216.5 2039.9V2050M2218.8 2041.7V2050M2221.1 2008.0V2050M2223.4 2039.4V2050M2225.7 2040.7V2050M2228.0 2047.9V2050M2230.4 2047.6V2050M2232.7 2045.8V2050M2235.0 2040.6V2050M2237.3 2048.1V2050M2241.9 2047.9V2050M2246.5 2043.0V2050M2248.8 2042.6V2050M2251.1 2040.2V2050M2253.4 2008.4V2050M2255.7 2047.7V2050M2258.0 2045.8V2050M2260.3 2044.5V2050M2262.6 2040.6V2050M2264.9 2040.2V2050M2267.2 2047.2V2050M2269.5 2048.2V2050M2271.8 2046.3V2050M2274.1 2045.3V2050M2276.4 2003.0V2050M2278.7 2033.5V2050M2281.0 2047.8V2050M2283.3 1995.8V2050M2285.6 2039.0V2050M2292.5 2048.2V2050M2294.8 2043.8V2050M2297.1 2044.7V2050M2299.4 2048.2V2050M2301.8 1978.0V2050M2304.1 2044.2V2050M2306.4 2045.5V2050M2308.7 2044.3V2050M2311.0 2040.7V2050M2313.3 2048.3V2050M2315.6 2040.6V2050M2317.9 2045.4V2050M2320.2 2047.5V2050M2322.5 2046.9V2050M2324.8 2043.1V2050M2327.1 2046.7V2050M2329.4 2046.9V2050M2331.7 2046.5V2050M2334.0 2047.2V2050M2338.6 2043.8V2050M2343.2 2044.8V2050M2345.5 2040.4V2050M2347.8 2046.9V2050M2350.1 2048.0V2050M2352.4 2041.5V2050M2357.0 2045.5V2050M2359.3 2045.6V2050M2361.6 2046.0V2050M2363.9 2043.4V2050M2368.5 2046.4V2050M2370.8 2005.9V2050M2375.5 2046.7V2050M2377.8 2041.1V2050M2380.1 2047.7V2050M2384.7 2046.1V2050M2387.0 2035.3V2050M2391.6 2048.4V2050M2393.9 2046.5V2050M2396.2 2025.6V2050M2398.5 2044.6V2050M2403.1 2046.9V2050M2405.4 2045.6V2050M2407.7 2033.5V2050M2412.3 2043.2V2050M2414.6 2048.2V2050M2416.9 2033.5V2050M2419.2 2047.5V2050M2421.5 2035.3V2050M2423.8 2045.9V2050M2426.1 2041.1V2050M2428.4 2048.4V2050M2430.7 2047.9V2050M2433.0 2033.5V2050M2435.3 2025.6V2050M2437.6 2048.5V2050M2439.9 2048.4V2050M2442.2 2046.5V2050M2444.5 2045.6V2050M2446.8 2047.2V2050M2449.2 2046.4V2050M2451.5 2040.7V2050M2453.8 2048.5V2050M2456.1 2048.2V2050M2460.7 2046.9V2050M2465.3 2039.0V2050M2467.6 2048.0V2050M2469.9 2046.5V2050M2472.2 2041.0V2050M2474.5 2048.3V2050M2476.8 2046.0V2050M2479.1 2044.0V2050M2481.4 2033.5V2050M2483.7 2048.1V2050M2486.0 2028.2V2050M2488.3 2017.4V2050M2490.6 2047.6V2050M2492.9 2048.4V2050M2497.5 2048.4V2050M2499.8 2048.4V2050M2506.7 2041.6V2050M2509.0 2043.1V2050M2511.3 2046.5V2050M2513.6 2047.8V2050M2515.9 2048.4V2050M2518.2 2022.8V2050M2520.6 2031.7V2050M2522.9 2048.4V2050M2525.2 2048.4V2050M2527.5 2047.6V2050M2532.1 2043.8V2050M2534.4 2044.3V2050M2536.7 2048.1V2050M2539.0 2028.2V2050M2541.3 2043.0V2050M2543.6 2048.4V2050M2545.9 2048.3V2050M2548.2 2041.7V2050M2550.5 2048.1V2050M2552.8 2048.2V2050M2555.1 2048.2V2050M2557.4 2046.6V2050M2559.7 2047.5V2050M2562.0 2047.2V2050M2564.3 1962.8V2050M2566.6 2041.7V2050M2568.9 2030.0V2050M2573.5 1913.3V2050M2578.1 2045.4V2050M2585.0 2040.9V2050M2587.3 2048.2V2050M2589.6 2047.7V2050M2591.9 2046.7V2050M2596.6 2033.5V2050M2598.9 2045.8V2050M2601.2 2048.4V2050M2605.8 2039.0V2050M2610.4 2047.5V2050M2612.7 2046.6V2050M2615.0 2040.6V2050M2617.3 2048.3V2050M2619.6 2045.6V2050M2621.9 2048.3V2050M2624.2 2044.5V2050M2626.5 1937.7V2050M2628.8 1845.8V2050M2631.1 2005.9V2050M2633.4 2048.2V2050M2640.3 2043.3V2050M2642.6 2046.4V2050M2644.9 2046.1V2050M2647.2 2044.4V2050M2649.5 2047.6V2050M2651.8 2018.5V2050M2654.1 2047.0V2050M2656.4 2030.0V2050M2658.7 2044.4V2050M2661.0 2045.2V2050M2663.3 2047.2V2050M2665.6 2048.3V2050M2668.0 1920.5V2050M2670.3 2048.3V2050M2672.6 2045.2V2050M2674.9 2048.1V2050M2677.2 2044.7V2050M2679.5 2047.9V2050M2681.8 2047.5V2050M2684.1 2044.7V2050M2688.7 2041.3V2050M2691.0 2010.2V2050M2695.6 2048.0V2050M2697.9 2046.7V2050M2700.2 2048.1V2050M2702.5 2046.1V2050M2704.8 2048.0V2050M2707.1 2048.1V2050M2709.4 2043.1V2050M2714.0 2046.8V2050M2716.3 2047.2V2050M2718.6 2040.7V2050M2720.9 2044.6V2050M2723.2 2042.7V2050M2725.5 2008.4V2050M2727.8 2041.3V2050M2730.1 2047.8V2050M2732.4 2046.3V2050M2734.7 2047.6V2050M2737.0 2042.6V2050M2739.4 2048.2V2050M2741.7 2046.4V2050M2744.0 1882.8V2050M2746.3 2040.7V2050M2748.6 2013.8V2050M2750.9 2048.1V2050M2753.2 2039.0V2050M2757.8 2042.8V2050M2760.1 2046.7V2050M2762.4 2045.3V2050M2764.7 2037.0V2050M2769.3 2045.4V2050M2771.6 1880.6V2050M2773.9 2048.1V2050M2776.2 2043.0V2050M2778.5 2046.7V2050M2780.8 2046.1V2050M2783.1 2042.5V2050M2785.4 1997.1V2050M2787.7 2010.3V2050M2790.0 2010.9V2050M2792.3 2039.8V2050M2794.6 2030.9V2050M2796.9 2022.1V2050M2799.2 2031.6V2050M2801.5 1950.0V2050M2803.8 1750.4V2050M2806.1 1770.5V2050M2808.4 1748.0V2050M2810.7 1583.0V2050M2813.1 2034.4V2050M2815.4 2014.6V2050M2817.7 2040.7V2050M2820.0 2016.6V2050M2822.3 2031.0V2050M2824.6 2002.9V2050M2826.9 2039.7V2050M2829.2 1760.8V2050M2831.5 2020.1V2050M2833.8 1945.5V2050M2836.1 2033.1V2050M2838.4 1890.3V2050M2840.7 1896.0V2050M2843.0 2027.6V2050M2845.3 2041.0V2050M2847.6 2034.6V2050M2849.9 2037.0V2050M2852.2 2043.9V2050M2854.5 2042.7V2050M2856.8 2027.4V2050M2859.1 2044.5V2050M2861.4 2041.2V2050M2863.7 2017.8V2050M2866.0 2047.5V2050M2868.3 2037.6V2050M2870.6 2036.7V2050M2872.9 2040.7V2050M2875.2 2038.1V2050M2877.5 2038.1V2050M2879.8 2041.4V2050M2882.1 2044.1V2050M2884.4 2047.4V2050M2886.8 2045.1V2050M2889.1 2046.2V2050M2891.4 2043.2V2050M2893.7 2039.0V2050M2896.0 2042.4V2050M2900.6 2047.0V2050M2902.9 2046.8V2050M2905.2 2046.6V2050M2909.8 2040.1V2050M2912.1 2042.0V2050M2914.4 2035.7V2050M2919.0 2037.0V2050M2921.3 2047.4V2050M2923.6 838.6V2050M2925.9 2037.4V2050M2928.2 2041.7V2050M2930.5 2042.3V2050M2932.8 2039.3V2050M2935.1 2041.6V2050M2937.4 2045.4V2050M2939.7 2045.2V2050M2942.0 2047.4V2050M2944.3 2042.6V2050M2946.6 2041.8V2050M2948.9 2041.7V2050M2953.5 2047.4V2050M2955.8 2042.6V2050M2958.2 1998.5V2050M2960.5 2038.0V2050M2962.8 2037.0V2050M2965.1 2045.8V2050M2967.4 2046.4V2050M2969.7 2045.4V2050M2972.0 2039.0V2050M2974.3 2043.7V2050M2976.6 2036.9V2050M2978.9 2046.4V2050M2981.2 2025.5V2050M2983.5 2042.7V2050M2985.8 2047.1V2050M2990.4 2042.2V2050M2997.3 2046.4V2050M2999.6 2046.0V2050M3004.2 2038.3V2050M3006.5 2047.2V2050M3008.8 2043.6V2050M3011.1 2036.8V2050M3013.4 1925.0V2050M3015.7 2035.8V2050M3018.0 2040.7V2050M3020.3 2045.0V2050M3022.6 2036.6V2050M3024.9 2046.8V2050M3027.2 2034.2V2050M3029.5 2047.3V2050M3034.2 2047.0V2050M3036.5 2045.4V2050M3038.8 2037.9V2050M3041.1 2042.2V2050M3043.4 2019.7V2050M3045.7 2046.4V2050M3048.0 2035.5V2050M3050.3 2035.8V2050M3052.6 2036.6V2050M3054.9 2046.7V2050M3057.2 2047.1V2050M3059.5 2038.2V2050M3061.8 2045.1V2050M3064.1 2043.2V2050M3066.4 2010.0V2050M3068.7 1992.7V2050M3071.0 2047.2V2050M3073.3 2036.4V2050M3075.6 2039.8V2050M3077.9 2010.0V2050M3080.2 2044.0V2050M3082.5 2046.9V2050M3084.8 2037.6V2050M3087.1 2043.8V2050M3089.4 2037.9V2050M3091.7 2037.5V2050M3094.0 2047.1V2050M3096.3 2010.0V2050M3098.6 1992.7V2050M3100.9 1462.3V2050M3103.2 2027.4V2050M3105.6 2047.1V2050M3107.9 2037.6V2050M3110.2 2044.4V2050M3112.5 2044.8V2050M3114.8 2046.9V2050M3117.1 2037.3V2050M3119.4 2046.8V2050M3121.7 2041.1V2050M3124.0 1990.7V2050M3126.3 2046.1V2050M3128.6 2022.8V2050M3130.9 2047.1V2050M3133.2 2047.1V2050M3135.5 2035.0V2050M3137.8 2022.8V2050M3140.1 2040.4V2050M3144.7 2045.7V2050M3147.0 2046.2V2050M3149.3 2038.7V2050M3151.6 1588.9V2050M3153.9 2034.2V2050M3156.2 2019.7V2050M3158.5 2036.0V2050M3160.8 2045.1V2050M3163.1 2043.1V2050M3165.4 2042.4V2050M3167.7 2044.2V2050M3170.0 2042.1V2050M3172.3 2037.8V2050M3174.6 2046.4V2050M3177.0 2046.6V2050M3179.3 2043.6V2050M3181.6 2039.9V2050M3183.9 2008.1V2050M3186.2 2045.8V2050M3188.5 2037.8V2050M3193.1 2041.9V2050M3195.4 2030.9V2050M3197.7 2027.6V2050M3200.0 2028.7V2050M3202.3 2027.0V2050M3204.6 2042.4V2050M3206.9 2017.0V2050M3209.2 2034.4V2050M3211.5 2043.3V2050M3213.8 2023.6V2050M3216.1 2036.7V2050M3218.4 2035.7V2050M3220.7 2039.7V2050M3223.0 2033.0V2050M3225.3 2035.0V2050M3227.6 2036.6V2050M3229.9 2029.9V2050M3232.2 2041.2V2050M3234.5 2040.8V2050M3236.8 2040.8V2050M3239.1 2036.3V2050M3241.4 2032.5V2050M3243.7 2015.8V2050M3246.0 2019.4V2050M3248.3 2034.3V2050M3250.7 2042.9V2050M3253.0 2009.7V2050M3255.3 2013.4V2050M3257.6 2034.7V2050M3259.9 2041.4V2050M3262.2 2030.4V2050M3264.5 2033.6V2050M3266.8 2030.4V2050M3269.1 2006.8V2050M3271.4 2042.5V2050M3273.7 2042.5V2050M3276.0 1903.0V2050M3278.3 2006.4V2050M3280.6 2024.5V2050M3282.9 2020.2V2050M3285.2 2041.4V2050M3287.5 2035.6V2050M3289.8 2020.6V2050M3292.1 2026.4V2050M3294.4 2032.2V2050M3296.7 2042.5V2050M3299.0 2003.4V2050M3301.3 2029.0V2050M3303.6 2019.2V2050M3305.9 1983.0V2050M3308.2 2021.7V2050M3310.5 2040.5V2050M3312.8 2006.8V2050M3315.1 2025.5V2050M3317.4 2040.2V2050M3319.7 2032.3V2050M3322.1 2041.0V2050M3324.4 2028.5V2050M3326.7 2026.0V2050M3329.0 1980.6V2050M3331.3 2021.2V2050M3333.6 2018.7V2050M3335.9 2018.3V2050M3338.2 1973.0V2050M3340.5 2023.0V2050M3342.8 1996.7V2050M3345.1 2022.9V2050M3347.4 1990.1V2050M3349.7 2027.5V2050M3352.0 1975.4V2050M3354.3 1994.3V2050M3356.6 2036.2V2050M3358.9 1987.6V2050M3361.2 1930.4V2050M3363.5 1986.0V2050M3365.8 2036.3V2050M3368.1 2024.6V2050M3370.4 1985.0V2050M3372.7 2012.3V2050M3375.0 1976.3V2050M3377.3 2009.9V2050M3379.6 2021.6V2050M3381.9 2035.0V2050M3384.2 2005.8V2050M3386.5 2011.5V2050M3388.8 2028.3V2050M3391.1 2005.0V2050M3393.4 2026.5V2050M3395.8 2035.6V2050M3398.1 2033.1V2050M3400.4 2009.1V2050M3402.7 2005.1V2050M3405.0 2035.9V2050M3407.3 2017.4V2050M3409.6 2011.4V2050M3411.9 2039.1V2050M3414.2 2032.8V2050M3416.5 2036.2V2050M3418.8 1680.1V2050M3421.1 2030.8V2050M3423.4 2041.2V2050M3425.7 2037.7V2050M3428.0 2016.3V2050M3430.3 2041.0V2050M3432.6 2014.3V2050M3434.9 2041.2V2050M3437.2 2040.7V2050M3439.5 2040.9V2050M3441.8 2028.0V2050M3444.1 2039.8V2050M3446.4 2041.0V2050M3448.7 2030.8V2050M3451.0 1990.6V2050M3453.3 2041.0V2050M3455.6 1995.0V2050M3457.9 2022.1V2050M3460.2 2021.4V2050M3462.5 2015.7V2050M3464.8 1986.6V2050M3467.1 1999.3V2050M3469.5 2019.1V2050M3471.8 2013.1V2050M3474.1 1967.7V2050M3476.4 1915.3V2050M3478.7 2010.1V2050M3481.0 1978.4V2050M3483.3 1973.8V2050M3485.6 2030.1V2050M3487.9 2027.0V2050M3490.2 1998.0V2050M3492.5 2018.2V2050M3494.8 2015.2V2050M3497.1 2033.0V2050M3499.4 2032.3V2050M3501.7 2003.6V2050M3504.0 1995.2V2050M3506.3 1983.0V2050M3508.6 1991.6V2050M3510.9 2004.0V2050M3513.2 956.0V2050M3515.5 1898.0V2050M3517.8 1872.3V2050M3520.1 1910.0V2050M3522.4 1948.2V2050M3524.7 1928.2V2050M3527.0 1985.4V2050M3529.3 1818.8V2050M3531.6 858.0V2050M3533.9 1927.6V2050M3536.2 1973.9V2050M3538.5 1975.3V2050M3540.9 1994.6V2050M3543.2 2030.4V2050M3545.5 1994.6V2050M3547.8 2011.3V2050M3550.1 2017.5V2050M3552.4 2020.2V2050M3554.7 2030.9V2050M3557.0 1930.8V2050M3559.3 1915.4V2050M3561.6 2027.1V2050M3563.9 1965.6V2050M3566.2 1976.4V2050M3568.5 1860.0V2050M3570.8 2029.6V2050M3573.1 1993.4V2050M3575.4 2019.9V2050M3577.7 2027.6V2050M3580.0 2035.2V2050M3582.3 2015.5V2050M3584.6 1991.6V2050M3586.9 2034.1V2050M3589.2 1965.6V2050M3591.5 1973.3V2050M3593.8 2010.6V2050M3596.1 2000.1V2050M3598.4 1935.5V2050M3600.7 2007.0V2050M3603.0 2015.8V2050M3605.3 2013.9V2050M3607.6 1998.6V2050M3609.9 2032.9V2050M3612.2 1973.1V2050M3614.6 2019.5V2050M3616.9 2012.6V2050M3619.2 2000.3V2050M3621.5 1275.5V2050M3623.8 2020.3V2050M3626.1 1950.1V2050M3628.4 2028.9V2050M3630.7 1931.9V2050M3633.0 1965.6V2050M3635.3 2027.7V2050M3637.6 2002.2V2050M3639.9 1999.5V2050M3642.2 1958.1V2050M3644.5 2023.4V2050M3646.8 2019.0V2050M3649.1 1927.6V2050M3651.4 1874.7V2050M3653.7 1695.0V2050M3656.0 1940.4V2050M3658.3 1382.0V2050M3660.6 1739.6V2050M3662.9 1730.7V2050M3665.2 1803.2V2050M3667.5 1681.5V2050M3669.8 1785.7V2050M3672.1 1933.3V2050M3674.4 1708.7V2050M3676.7 1518.0V2050M3679.0 1542.5V2050M3681.3 1906.8V2050M3683.6 1685.6V2050M3685.9 1563.0V2050M3688.3 1945.9V2050M3690.6 1953.9V2050M3692.9 1962.0V2050M3695.2 1828.8V2050M3697.5 1751.1V2050M3699.8 1697.3V2050M3702.1 1693.4V2050M3704.4 1710.6V2050M3706.7 1937.4V2050M3709.0 1972.6V2050M3711.3 1523.0V2050M3713.6 1796.6V2050M3715.9 1883.8V2050M3718.2 1705.7V2050M3720.5 1974.3V2050M3722.8 1886.8V2050M3725.1 1915.0V2050M3727.4 1769.9V2050M3729.7 1830.1V2050M3732.0 1825.6V2050M3734.3 1367.0V2050M3736.6 1933.4V2050M3738.9 725.0V2050M3741.2 916.0V2050M3743.5 398.0V2050" stroke="#4a2fe6" stroke-opacity="0.78" stroke-width="2.0" fill="none"/>
<path d="M290.0 1839.0 L292.0 1854.0 L293.7 1854.0 L295.4 1853.0 L297.6 1882.0 L299.0 1878.1 L300.4 1872.0 L301.8 1894.0 L303.1 1911.3 L304.5 1926.0 L306.5 1880.0 L307.7 1880.3 L308.8 1877.7 L310.0 1875.0 L311.3 1876.4 L312.7 1871.9 L314.0 1873.5 L315.2 1883.6 L316.4 1894.0 L318.0 1894.0 L319.7 1890.0 L322.0 1902.5 L324.0 1891.5 L325.8 1912.0 L328.0 1916.0 L329.4 1914.2 L330.8 1911.0 L332.0 1875.0 L333.5 1880.8 L335.0 1883.0 L336.4 1845.3 L337.7 1811.0 L338.9 1811.5 L340.1 1811.2 L341.3 1813.0 L342.4 1833.5 L343.7 1827.9 L345.0 1822.0 L346.3 1828.3 L347.7 1831.9 L349.0 1840.0 L350.3 1840.3 L351.7 1842.0 L353.0 1844.5 L354.0 1831.0 L355.5 1828.2 L356.9 1822.8 L358.4 1817.0 L359.7 1812.0 L361.0 1810.0 L362.3 1815.3 L363.7 1816.4 L365.0 1822.0 L366.5 1823.5 L367.9 1822.4 L369.4 1825.0 L370.8 1818.1 L372.2 1817.1 L373.6 1809.5 L375.0 1806.0 L376.3 1803.7 L377.7 1806.1 L379.0 1803.0 L380.5 1808.1 L382.0 1810.0 L384.0 1801.7 L385.5 1808.6 L386.0 1772.7 L387.3 1772.2 L388.7 1775.6 L390.0 1774.0 L391.5 1779.6 L392.8 1780.1 L394.0 1781.1 L395.2 1779.4 L396.5 1781.0 L398.5 1767.0 L399.8 1750.9 L401.0 1731.0 L402.3 1714.4 L403.5 1698.3 L404.8 1678.8 L406.4 1680.5 L408.0 1678.8 L409.5 1697.3 L411.0 1717.5 L413.0 1676.0 L414.7 1651.9 L416.4 1629.0 L417.8 1587.6 L418.2 1550.0 L420.5 1482.0 L422.0 1487.2 L423.5 1493.8 L425.0 1502.0 L426.5 1482.0 L428.1 1464.9 L429.6 1447.7 L431.0 1447.7 L432.3 1444.6 L433.7 1447.2 L435.0 1445.2 L436.4 1445.5 L437.8 1456.0 L439.2 1469.7 L440.6 1479.5 L442.0 1491.0 L443.5 1491.7 L444.9 1494.0 L446.4 1495.6 L447.6 1489.6 L448.8 1479.8 L450.0 1476.9 L451.2 1465.8 L452.4 1461.0 L453.7 1461.7 L455.0 1461.7 L456.4 1457.7 L457.7 1460.7 L459.0 1459.0 L460.2 1462.9 L461.5 1468.0 L462.9 1465.7 L464.2 1460.5 L465.6 1458.0 L466.9 1455.9 L468.3 1454.6 L470.6 1377.0 L472.2 1363.0 L473.8 1345.0 L475.0 1330.0 L476.2 1318.8 L477.4 1304.0 L478.9 1313.6 L480.5 1321.3 L482.0 1327.0 L483.4 1326.3 L484.7 1326.4 L486.1 1327.1 L487.4 1328.2 L488.8 1327.0 L490.3 1327.6 L491.9 1332.8 L493.4 1334.0 L494.7 1245.0 L496.4 1218.8 L498.0 1190.0 L500.2 1154.0 L501.4 1169.2 L502.6 1179.3 L503.8 1195.0 L505.4 1153.7 L507.0 1108.5 L508.5 1103.5 L510.1 1101.5 L511.6 1099.0 L513.8 1072.0 L515.1 1071.4 L516.4 1071.6 L517.7 1067.9 L519.0 1067.5 L520.5 1025.0 L522.0 978.7 L523.6 993.5 L525.2 1008.0 L526.7 1001.8 L528.3 996.5 L529.8 992.0 L531.0 999.8 L532.2 1008.6 L533.4 1019.7 L535.0 1021.6 L536.6 1026.5 L538.9 1076.6 L540.5 1054.6 L542.0 1031.0 L543.4 1053.7 L544.8 1072.0 L546.4 1061.5 L548.0 1054.0 L549.5 1064.0 L551.0 1080.1 L552.5 1090.0 L554.1 1117.6 L555.7 1145.0 L556.9 1132.4 L558.2 1119.5 L559.4 1108.5 L561.7 1188.0 L563.2 1148.7 L564.8 1108.5 L566.3 1106.1 L567.9 1100.6 L569.4 1097.0 L570.6 1108.0 L571.8 1117.7 L573.0 1131.0 L574.2 1135.8 L575.5 1134.9 L576.7 1140.0 L578.4 1126.5 L580.0 1113.0 L581.5 1112.2 L582.9 1106.7 L584.4 1106.0 L586.0 1074.0 L587.6 1040.0 L588.8 1038.3 L590.1 1033.2 L591.3 1029.0 L592.8 1035.6 L594.3 1037.9 L595.8 1045.0 L597.3 1044.7 L598.9 1043.5 L600.4 1045.0 L601.9 1040.4 L603.5 1031.8 L605.0 1026.5 L606.4 1021.7 L607.7 1019.4 L609.0 1014.2 L610.4 1008.0 L611.7 996.6 L613.0 981.0 L614.6 976.3 L616.3 972.0 L618.6 1035.6 L619.8 1027.2 L621.0 1019.9 L622.2 1010.6 L623.8 1024.2 L625.4 1038.0 L627.0 1040.4 L628.6 1044.7 L630.9 1108.5 L632.3 1085.9 L633.6 1062.6 L635.0 1042.0 L636.2 1051.7 L637.3 1064.6 L638.5 1072.7 L639.9 1065.0 L641.4 1053.8 L642.8 1043.5 L644.2 1033.8 L645.7 1034.2 L647.1 1034.1 L648.6 1037.0 L649.9 1038.2 L651.2 1042.6 L652.4 1045.1 L653.7 1045.7 L655.4 1037.4 L657.0 1030.4 L658.3 1035.1 L659.7 1038.4 L661.0 1040.6 L662.2 1031.3 L663.3 1020.9 L664.5 1010.0 L666.0 1013.5 L667.5 1014.1 L669.0 1017.0 L670.6 1027.1 L672.3 1035.5 L674.0 1041.3 L675.7 1049.0 L677.4 1044.7 L679.0 1040.6 L680.7 1037.5 L682.4 1032.0 L684.1 1041.3 L685.8 1049.0 L687.1 1045.1 L688.4 1045.0 L689.7 1040.7 L691.0 1037.0 L692.6 1031.4 L694.3 1025.0 L696.0 1028.1 L697.7 1035.5 L699.4 1025.5 L701.0 1015.0 L702.3 1012.8 L703.7 1013.6 L705.0 1011.8 L706.4 1001.5 L707.8 991.5 L709.5 976.0 L711.2 957.7 L712.9 932.0 L714.6 932.6 L716.3 932.0 L718.6 957.7 L720.1 951.1 L721.5 941.2 L723.0 934.0 L724.7 951.0 L726.4 941.4 L728.0 930.6 L728.8 961.0 L730.1 957.0 L731.5 951.0 L733.0 856.0 L734.2 848.9 L735.5 839.0 L736.9 840.8 L738.3 844.0 L739.6 826.3 L741.0 805.5 L743.3 814.0 L745.0 852.8 L746.4 840.9 L747.7 825.8 L749.1 827.7 L750.4 830.0 L751.8 829.0 L753.1 838.5 L754.5 844.0 L756.2 807.9 L757.9 771.6 L759.3 768.4 L760.6 763.4 L762.0 761.5 L763.3 746.1 L764.6 727.7 L765.8 715.3 L767.0 699.0 L768.7 682.0 L770.0 681.9 L771.4 682.0 L772.6 704.0 L773.8 724.3 L775.5 725.3 L777.2 724.3 L778.8 754.7 L780.5 756.6 L782.2 756.4 L783.6 748.3 L785.0 743.0 L787.3 709.0 L789.0 722.1 L790.7 732.7 L792.0 750.7 L793.4 768.0 L794.6 805.2 L795.8 841.0 L797.4 821.2 L799.0 802.0 L800.8 788.5 L802.0 795.8 L803.2 802.0 L804.6 791.4 L806.0 778.4 L807.3 774.5 L808.7 770.4 L810.0 765.0 L811.4 767.9 L812.7 775.0 L814.0 788.8 L815.4 805.5 L817.1 802.7 L818.8 800.4 L821.1 792.0 L822.8 790.1 L824.5 786.9 L826.2 787.2 L827.9 790.0 L829.6 801.8 L831.3 812.0 L833.0 836.0 L834.3 839.2 L835.7 839.3 L837.0 844.0 L839.0 873.0 L840.7 884.8 L842.4 896.8 L843.8 894.5 L845.1 892.6 L846.5 893.4 L847.7 895.2 L848.8 899.4 L850.0 903.6 L851.6 922.4 L853.3 944.0 L855.0 979.7 L856.2 979.2 L857.5 979.3 L858.8 982.0 L860.0 983.0 L861.4 973.2 L862.7 964.5 L863.9 977.6 L865.1 989.8 L866.8 982.6 L868.5 974.6 L870.2 948.1 L871.9 923.9 L873.1 919.7 L874.5 914.6 L875.9 905.9 L877.3 908.6 L878.7 915.7 L881.0 872.4 L882.2 864.6 L883.4 856.7 L884.5 850.0 L885.7 843.0 L887.0 846.5 L888.4 854.9 L889.7 858.7 L891.2 848.3 L892.8 839.0 L894.2 826.2 L895.6 817.4 L897.0 812.0 L898.3 805.6 L899.9 813.6 L901.5 825.2 L902.8 833.3 L904.1 840.2 L905.4 848.8 L906.7 843.2 L908.0 838.9 L909.3 831.0 L910.9 838.4 L912.5 843.0 L913.7 841.6 L914.9 842.4 L916.0 840.6 L917.2 839.0 L918.5 853.5 L919.8 867.6 L921.1 884.2 L922.4 893.8 L923.7 902.9 L925.0 911.8 L926.6 899.1 L928.2 882.3 L929.4 881.9 L930.6 877.8 L931.8 874.2 L933.0 872.4 L934.2 875.3 L935.3 872.6 L936.5 874.2 L937.6 877.4 L938.8 878.3 L940.1 895.9 L941.5 910.9 L942.8 929.5 L944.1 926.8 L945.4 924.7 L946.7 919.7 L948.0 912.6 L949.3 906.3 L950.6 900.0 L951.9 910.6 L953.3 922.7 L954.6 935.4 L955.8 942.2 L957.0 944.3 L958.1 951.6 L959.3 956.1 L960.5 959.0 L961.8 952.2 L963.1 943.5 L964.4 937.4 L965.6 937.5 L966.8 933.5 L968.0 931.1 L969.1 928.7 L970.3 929.7 L971.5 925.6 L972.7 932.4 L973.9 938.4 L975.0 946.0 L976.2 953.0 L977.4 945.1 L978.5 941.0 L979.7 933.9 L980.8 927.0 L982.0 921.6 L983.3 929.4 L984.7 936.2 L986.0 941.3 L987.3 935.9 L988.7 934.9 L990.0 931.5 L991.2 931.7 L992.4 935.8 L993.5 936.3 L994.7 935.1 L995.9 937.4 L997.2 943.3 L998.5 949.7 L999.7 960.3 L1001.0 965.0 L1002.2 966.0 L1003.4 969.4 L1004.5 970.7 L1005.7 972.8 L1007.0 985.2 L1008.4 996.7 L1009.7 1008.0 L1011.0 1024.9 L1012.3 1037.9 L1013.6 1055.4 L1014.9 1048.0 L1016.2 1037.5 L1017.5 1029.8 L1018.8 1039.8 L1020.2 1048.7 L1021.5 1059.3 L1022.7 1058.0 L1023.9 1058.7 L1025.0 1058.0 L1026.2 1057.2 L1027.4 1057.4 L1028.9 1053.9 L1030.5 1048.6 L1032.0 1043.6 L1033.3 1042.0 L1034.6 1043.5 L1035.9 1044.8 L1037.2 1045.5 L1038.6 1053.3 L1040.0 1057.4 L1042.3 1104.5 L1043.6 1122.0 L1044.9 1136.2 L1046.2 1151.8 L1047.5 1146.4 L1048.9 1146.5 L1050.2 1142.0 L1051.5 1131.1 L1052.8 1121.3 L1054.1 1110.4 L1055.3 1105.4 L1056.4 1099.2 L1057.6 1092.6 L1058.8 1086.8 L1060.1 1097.1 L1061.5 1103.4 L1062.8 1112.4 L1064.0 1109.2 L1065.2 1108.4 L1066.3 1102.8 L1067.5 1100.5 L1068.7 1098.6 L1069.9 1101.2 L1071.1 1099.1 L1072.2 1103.6 L1073.4 1104.2 L1074.6 1104.5 L1075.8 1103.8 L1077.0 1102.8 L1078.1 1104.6 L1079.3 1104.8 L1080.5 1102.6 L1082.4 1143.9 L1083.6 1138.4 L1084.8 1135.9 L1085.9 1132.3 L1087.1 1128.1 L1088.3 1124.2 L1089.5 1125.0 L1090.7 1125.8 L1091.8 1129.3 L1093.0 1131.8 L1094.2 1132.0 L1095.5 1131.4 L1096.8 1133.5 L1098.2 1137.4 L1099.5 1138.6 L1100.8 1139.4 L1102.1 1140.0 L1103.3 1136.3 L1104.5 1137.8 L1105.6 1137.3 L1106.8 1135.8 L1108.0 1132.0 L1109.3 1124.4 L1110.6 1113.0 L1111.9 1106.5 L1113.1 1110.8 L1114.3 1110.8 L1115.4 1115.4 L1116.6 1119.5 L1117.8 1120.3 L1119.1 1133.7 L1120.5 1143.6 L1121.8 1157.7 L1123.0 1159.0 L1124.6 1158.1 L1126.2 1159.0 L1127.5 1223.6 L1128.8 1236.0 L1130.0 1244.7 L1131.2 1257.5 L1132.4 1273.3 L1133.6 1266.4 L1134.9 1258.1 L1136.1 1251.0 L1137.3 1255.7 L1138.6 1263.4 L1139.9 1262.7 L1141.1 1258.9 L1142.4 1259.6 L1143.6 1276.5 L1144.8 1296.3 L1146.0 1315.5 L1147.3 1312.0 L1148.5 1310.3 L1149.8 1310.6 L1151.0 1317.1 L1152.3 1323.0 L1153.5 1333.4 L1154.8 1341.6 L1156.0 1341.2 L1157.3 1335.9 L1158.5 1335.4 L1159.8 1313.4 L1161.0 1292.0 L1162.2 1276.9 L1163.5 1263.4 L1164.8 1242.6 L1166.0 1221.0 L1167.2 1234.6 L1168.5 1250.3 L1169.7 1262.0 L1171.0 1216.0 L1172.2 1218.0 L1173.5 1219.1 L1174.7 1223.6 L1175.9 1210.8 L1177.1 1196.3 L1178.3 1194.1 L1179.6 1195.6 L1180.8 1194.5 L1182.1 1193.8 L1183.3 1197.3 L1184.6 1197.4 L1185.8 1198.8 L1187.0 1238.5 L1188.3 1239.0 L1189.5 1237.5 L1190.8 1238.5 L1192.0 1260.9 L1193.2 1254.9 L1194.5 1248.4 L1195.8 1248.0 L1197.0 1250.8 L1198.2 1250.4 L1199.5 1251.0 L1200.8 1254.3 L1202.0 1260.9 L1203.2 1258.1 L1204.5 1257.1 L1205.7 1256.0 L1207.0 1269.4 L1208.2 1280.7 L1209.5 1276.8 L1210.7 1276.7 L1212.0 1273.3 L1213.2 1272.7 L1214.4 1270.8 L1215.7 1277.7 L1216.9 1288.2 L1218.2 1287.7 L1219.4 1285.7 L1220.6 1253.4 L1221.8 1247.9 L1223.1 1246.0 L1224.3 1246.0 L1225.6 1249.7 L1226.8 1251.0 L1228.0 1226.2 L1229.3 1203.7 L1230.5 1205.4 L1231.8 1203.6 L1233.0 1203.7 L1234.2 1195.5 L1235.5 1188.8 L1236.8 1208.7 L1238.0 1226.0 L1239.2 1221.5 L1240.5 1222.1 L1241.7 1218.6 L1243.0 1222.4 L1244.2 1228.7 L1245.5 1236.0 L1246.7 1233.0 L1248.0 1226.8 L1249.2 1221.0 L1250.5 1220.1 L1251.7 1220.0 L1253.0 1224.1 L1254.2 1222.4 L1255.4 1227.7 L1256.7 1232.9 L1257.9 1236.0 L1259.1 1227.0 L1260.4 1221.7 L1261.6 1213.7 L1262.8 1217.4 L1264.1 1221.2 L1265.3 1225.9 L1266.6 1231.0 L1267.8 1225.3 L1269.0 1218.6 L1270.2 1219.8 L1271.5 1221.8 L1272.8 1222.6 L1274.0 1226.0 L1275.2 1215.1 L1276.5 1201.2 L1277.7 1206.8 L1279.0 1212.4 L1280.2 1216.0 L1281.5 1178.9 L1282.7 1172.0 L1284.0 1167.2 L1285.2 1159.0 L1286.5 1159.1 L1287.7 1159.4 L1289.0 1159.3 L1290.2 1159.0 L1291.4 1178.9 L1292.7 1181.2 L1293.9 1180.9 L1295.2 1182.6 L1296.4 1173.8 L1297.7 1166.5 L1298.9 1161.5 L1300.2 1162.4 L1301.4 1163.8 L1302.7 1169.7 L1303.9 1170.2 L1305.1 1172.0 L1306.3 1174.0 L1308.3 1195.0 L1309.8 1194.3 L1311.3 1191.3 L1312.5 1186.6 L1313.8 1186.2 L1315.0 1185.6 L1316.3 1181.4 L1317.5 1172.0 L1318.8 1161.5 L1320.0 1163.7 L1321.2 1166.3 L1322.5 1167.2 L1323.7 1171.4 L1325.7 1144.0 L1327.2 1127.6 L1328.7 1114.3 L1330.7 1069.6 L1332.2 1081.1 L1333.7 1095.7 L1334.9 1082.7 L1336.1 1070.8 L1337.3 1077.1 L1338.6 1084.5 L1339.8 1080.3 L1341.1 1071.2 L1342.3 1065.7 L1343.6 1060.9 L1344.8 1061.1 L1346.1 1061.9 L1347.3 1063.6 L1348.6 1065.8 L1349.8 1074.0 L1351.0 1084.5 L1352.3 1085.3 L1353.5 1084.1 L1354.8 1087.0 L1356.0 1085.1 L1357.3 1079.5 L1359.0 1098.1 L1361.0 1082.0 L1362.2 1075.6 L1363.5 1072.3 L1364.7 1064.6 L1365.9 1064.2 L1367.2 1062.9 L1368.4 1060.9 L1369.7 1072.0 L1370.9 1068.6 L1372.2 1067.4 L1373.4 1062.1 L1374.7 1043.0 L1375.9 1027.3 L1377.2 1021.9 L1378.4 1015.0 L1379.7 1021.5 L1380.9 1029.8 L1382.2 1035.6 L1383.4 1039.8 L1384.6 1043.3 L1385.8 1043.3 L1387.1 1045.9 L1388.3 1049.7 L1389.5 1039.6 L1390.7 1032.6 L1391.9 1025.8 L1392.9 1047.0 L1394.3 1038.4 L1395.8 1033.5 L1397.7 1058.7 L1399.7 1064.5 L1400.6 1105.0 L1401.6 1134.0 L1403.5 1106.0 L1405.0 1104.1 L1406.4 1103.0 L1407.8 1112.9 L1409.3 1118.6 L1410.8 1114.2 L1412.2 1110.9 L1414.2 1124.4 L1415.6 1116.8 L1417.0 1110.9 L1418.5 1110.8 L1420.0 1110.9 L1421.9 1113.8 L1423.3 1105.6 L1424.8 1099.3 L1426.2 1103.2 L1427.7 1105.0 L1429.6 1120.5 L1430.9 1122.4 L1432.2 1121.0 L1433.5 1123.4 L1434.5 1155.3 L1436.0 1149.4 L1437.4 1145.7 L1438.8 1139.6 L1440.3 1132.0 L1441.8 1141.7 L1443.2 1147.6 L1445.1 1136.0 L1446.5 1142.4 L1448.0 1147.6 L1449.5 1149.2 L1450.9 1151.5 L1452.8 1172.7 L1454.1 1175.4 L1455.4 1171.8 L1456.7 1174.6 L1457.7 1161.0 L1459.0 1158.5 L1460.2 1161.0 L1461.5 1159.2 L1463.5 1170.8 L1464.4 1155.3 L1465.8 1158.8 L1467.3 1163.0 L1468.6 1157.8 L1469.9 1156.8 L1471.2 1153.4 L1472.7 1144.9 L1474.1 1132.0 L1475.5 1122.5 L1477.0 1112.8 L1478.5 1116.0 L1479.9 1120.5 L1481.8 1132.0 L1482.8 1174.6 L1484.7 1174.6 L1486.2 1165.1 L1487.6 1159.2 L1489.0 1158.2 L1490.5 1161.0 L1492.5 1168.8 L1494.0 1170.6 L1495.4 1168.8 L1496.8 1152.4 L1498.3 1136.0 L1499.8 1143.7 L1501.2 1147.6 L1502.6 1153.3 L1504.0 1163.0 L1505.5 1155.1 L1507.0 1149.5 L1508.9 1163.0 L1510.2 1163.0 L1511.5 1166.4 L1512.8 1168.8 L1514.2 1173.7 L1515.7 1182.4 L1517.6 1151.5 L1518.8 1149.4 L1520.0 1149.1 L1521.2 1147.7 L1522.4 1147.6 L1523.8 1150.4 L1525.3 1157.2 L1526.8 1153.3 L1528.2 1153.4 L1529.5 1150.3 L1530.7 1141.7 L1532.0 1138.0 L1533.5 1144.8 L1535.0 1151.5 L1536.5 1153.0 L1537.9 1155.3 L1539.3 1150.6 L1540.8 1145.7 L1542.2 1152.5 L1543.7 1163.0 L1545.0 1162.2 L1546.2 1161.3 L1547.5 1163.0 L1549.5 1184.3 L1550.4 1213.3 L1551.8 1207.7 L1553.3 1201.7 L1554.5 1201.6 L1555.8 1198.3 L1557.0 1197.5 L1558.2 1194.0 L1559.5 1195.9 L1560.7 1198.3 L1562.0 1203.6 L1563.5 1208.6 L1565.0 1213.3 L1566.4 1207.4 L1567.8 1201.7 L1569.2 1204.0 L1570.7 1205.6 L1571.9 1206.5 L1573.2 1209.1 L1574.4 1210.9 L1575.6 1211.4 L1577.5 1230.7 L1579.4 1248.0 L1580.8 1241.2 L1582.3 1230.7 L1583.8 1237.5 L1585.2 1246.0 L1587.2 1240.4 L1588.6 1241.1 L1590.0 1242.3 L1592.0 1228.8 L1593.3 1230.2 L1594.6 1227.6 L1595.9 1228.8 L1597.3 1231.9 L1598.8 1238.4 L1600.7 1225.0 L1602.6 1205.6 L1604.0 1211.5 L1605.5 1219.0 L1607.0 1213.4 L1608.4 1211.4 L1610.4 1178.5 L1611.7 1176.5 L1612.9 1173.4 L1614.2 1168.8 L1615.5 1168.6 L1616.8 1168.5 L1618.1 1170.8 L1619.5 1175.7 L1621.0 1184.3 L1622.3 1182.5 L1623.6 1181.2 L1624.9 1182.4 L1626.3 1172.4 L1627.8 1163.0 L1629.2 1158.5 L1630.7 1153.4 L1632.2 1150.3 L1633.6 1149.5 L1635.0 1137.9 L1636.5 1130.2 L1638.0 1119.5 L1639.4 1107.0 L1640.7 1103.1 L1641.9 1101.8 L1643.2 1101.2 L1645.2 1066.4 L1647.1 1052.9 L1648.3 1052.0 L1649.4 1052.3 L1650.6 1051.1 L1651.7 1052.6 L1652.9 1052.9 L1653.9 1074.0 L1655.3 1065.5 L1656.8 1058.7 L1658.2 1062.7 L1659.7 1064.5 L1661.6 1101.2 L1663.0 1108.2 L1664.5 1114.7 L1666.0 1109.7 L1667.4 1101.2 L1668.8 1095.1 L1670.3 1087.7 L1671.8 1088.8 L1673.2 1087.7 L1674.2 1126.3 L1675.7 1130.5 L1677.1 1134.0 L1679.0 1139.9 L1679.5 1275.0 L1681.0 1273.7 L1682.5 1261.0 L1684.1 1248.9 L1686.2 1224.0 L1687.8 1236.8 L1689.3 1246.8 L1690.8 1230.9 L1692.4 1213.6 L1694.0 1226.0 L1695.5 1234.4 L1697.0 1240.1 L1698.6 1243.7 L1700.7 1224.0 L1702.0 1222.8 L1703.3 1218.8 L1704.6 1219.1 L1705.9 1215.7 L1707.0 1170.2 L1708.5 1169.7 L1710.0 1170.2 L1711.3 1175.0 L1712.6 1181.2 L1713.9 1188.1 L1715.2 1196.0 L1717.3 1159.8 L1718.7 1156.0 L1720.0 1155.0 L1721.4 1151.5 L1723.0 1160.9 L1724.5 1172.2 L1725.9 1157.9 L1727.3 1148.6 L1728.7 1135.0 L1730.0 1130.6 L1731.2 1123.6 L1732.5 1119.0 L1733.8 1116.3 L1735.2 1114.0 L1736.6 1114.3 L1738.0 1114.2 L1740.0 1124.6 L1741.4 1125.5 L1742.8 1125.2 L1744.2 1122.5 L1745.8 1138.5 L1747.3 1153.6 L1748.8 1140.0 L1750.4 1128.7 L1752.0 1122.2 L1753.5 1116.3 L1754.8 1119.8 L1756.1 1123.9 L1757.4 1126.6 L1758.7 1132.9 L1760.1 1131.2 L1761.4 1130.2 L1762.8 1126.7 L1764.2 1122.2 L1765.6 1113.9 L1767.0 1110.1 L1768.4 1101.3 L1769.7 1090.7 L1771.1 1083.2 L1772.5 1085.5 L1773.9 1085.7 L1775.3 1087.3 L1776.7 1087.9 L1778.0 1085.9 L1779.4 1083.2 L1780.8 1086.4 L1782.1 1092.1 L1783.5 1097.7 L1784.8 1099.5 L1786.1 1097.5 L1787.4 1097.4 L1788.7 1097.7 L1789.9 1098.1 L1791.1 1100.2 L1792.3 1101.7 L1793.6 1100.6 L1794.8 1103.2 L1796.0 1101.8 L1798.0 1087.3 L1800.1 1106.0 L1801.3 1106.8 L1802.6 1105.1 L1803.8 1108.6 L1805.1 1107.2 L1806.3 1108.0 L1807.7 1106.0 L1809.1 1110.1 L1810.5 1108.0 L1812.5 1083.2 L1813.9 1085.3 L1815.3 1091.8 L1816.7 1095.6 L1818.7 1083.2 L1820.1 1087.3 L1821.5 1093.1 L1822.9 1095.6 L1824.2 1094.6 L1825.5 1093.3 L1826.7 1093.0 L1828.0 1093.5 L1829.6 1075.6 L1831.2 1060.4 L1833.2 1039.0 L1835.5 1023.5 L1837.2 1021.0 L1838.8 1018.0 L1841.0 981.6 L1842.7 982.6 L1844.3 984.9 L1846.0 972.7 L1847.2 975.1 L1848.4 974.2 L1849.6 976.1 L1850.8 977.0 L1852.0 979.4 L1853.7 968.3 L1855.3 952.9 L1856.7 953.8 L1858.0 951.8 L1859.3 955.2 L1860.7 956.0 L1862.0 957.3 L1864.2 976.0 L1866.4 970.5 L1868.6 983.8 L1870.8 977.2 L1873.0 983.8 L1874.6 955.0 L1876.0 943.6 L1877.4 933.0 L1879.6 935.2 L1881.3 982.7 L1883.0 1012.5 L1884.6 1009.8 L1886.2 1010.3 L1888.4 981.6 L1889.8 990.2 L1891.2 995.9 L1892.5 991.7 L1893.7 985.6 L1895.0 982.1 L1896.2 979.4 L1897.8 983.1 L1899.5 990.4 L1900.8 1006.3 L1902.2 1020.2 L1903.6 1012.6 L1905.0 1001.4 L1906.7 997.3 L1908.3 995.9 L1909.9 997.8 L1911.6 997.0 L1913.0 1001.7 L1914.4 1008.0 L1915.8 1010.0 L1917.2 1010.3 L1918.8 1010.7 L1920.5 1008.0 L1921.8 999.4 L1923.0 991.0 L1924.3 980.5 L1925.7 980.5 L1927.1 981.6 L1928.7 995.9 L1929.9 992.2 L1931.1 992.9 L1932.4 991.7 L1933.6 988.4 L1934.8 988.2 L1935.9 963.9 L1937.6 962.3 L1939.2 961.7 L1940.4 963.3 L1941.6 964.5 L1942.9 968.1 L1944.1 970.9 L1945.3 973.8 L1947.0 986.0 L1948.7 981.5 L1950.3 977.2 L1951.9 960.4 L1953.6 941.8 L1955.3 944.7 L1957.0 948.4 L1958.3 942.3 L1959.7 931.9 L1961.1 936.0 L1962.4 937.4 L1964.1 932.7 L1965.7 924.2 L1967.2 918.2 L1968.7 910.5 L1970.2 891.9 L1971.6 871.9 L1973.0 881.7 L1974.5 891.2 L1975.8 898.9 L1977.1 903.5 L1978.4 910.5 L1979.8 891.6 L1981.3 871.9 L1982.7 873.2 L1984.2 872.9 L1985.6 872.4 L1987.0 873.8 L1988.5 881.6 L1990.0 893.1 L1991.3 892.6 L1992.5 895.1 L1993.8 897.0 L1995.1 885.8 L1996.4 874.9 L1997.7 862.2 L1998.9 860.7 L2000.1 856.5 L2001.3 856.9 L2002.5 852.6 L2003.7 858.4 L2004.9 867.1 L2006.1 871.0 L2007.3 879.6 L2008.6 874.9 L2009.9 868.7 L2011.2 862.2 L2013.1 827.4 L2014.5 828.5 L2016.0 825.5 L2017.5 832.1 L2019.0 835.2 L2020.0 810.0 L2020.9 756.0 L2022.3 735.5 L2023.8 713.4 L2025.2 709.1 L2026.7 701.8 L2028.2 708.6 L2029.6 713.4 L2031.1 742.4 L2032.5 709.6 L2034.0 709.1 L2035.4 707.6 L2037.3 686.4 L2038.6 682.5 L2039.9 681.3 L2041.2 678.6 L2042.0 689.7 L2043.6 687.3 L2045.2 681.5 L2046.8 683.5 L2048.3 687.7 L2049.7 688.4 L2051.0 685.1 L2052.4 683.5 L2053.9 660.3 L2055.5 638.0 L2057.1 636.8 L2058.6 640.0 L2060.7 623.5 L2062.0 620.9 L2063.3 617.9 L2064.6 617.9 L2065.9 615.2 L2067.4 620.1 L2069.0 621.4 L2070.5 613.9 L2072.0 602.8 L2073.6 601.2 L2075.2 598.7 L2077.3 642.1 L2079.3 650.4 L2080.9 661.3 L2082.4 673.2 L2083.7 666.3 L2085.0 663.7 L2086.3 657.9 L2087.6 652.5 L2089.1 657.6 L2090.7 660.8 L2092.2 635.4 L2093.8 611.1 L2095.1 611.8 L2096.4 607.8 L2097.7 607.2 L2099.0 607.0 L2100.5 613.2 L2102.0 621.4 L2103.4 619.9 L2104.8 619.0 L2106.2 615.2 L2107.6 618.6 L2109.0 625.5 L2110.4 629.7 L2112.4 648.3 L2114.5 633.9 L2115.9 628.2 L2117.2 618.9 L2118.6 613.2 L2120.0 600.9 L2121.4 592.8 L2122.8 582.1 L2124.2 586.3 L2125.5 589.3 L2126.9 590.4 L2128.2 588.8 L2129.4 584.8 L2130.7 582.3 L2132.0 580.0 L2133.4 567.7 L2134.8 557.0 L2136.2 542.8 L2137.8 547.1 L2139.3 553.1 L2141.4 573.8 L2142.8 564.6 L2144.1 557.7 L2145.5 549.0 L2147.6 569.7 L2149.1 553.2 L2150.7 532.5 L2152.8 520.0 L2154.4 512.4 L2155.9 507.6 L2158.0 472.4 L2160.0 458.0 L2161.6 447.6 L2163.1 441.4 L2164.6 430.9 L2166.2 423.8 L2167.8 424.6 L2169.4 424.8 L2170.9 435.6 L2172.5 445.5 L2174.5 468.3 L2176.6 515.9 L2177.6 544.9 L2179.1 562.1 L2180.7 582.1 L2182.8 511.8 L2184.4 533.2 L2185.9 557.3 L2188.0 561.4 L2189.6 539.1 L2191.1 515.9 L2192.6 515.5 L2194.2 513.8 L2196.2 528.3 L2197.8 531.2 L2199.4 532.5 L2200.8 542.5 L2202.1 548.5 L2203.5 559.4 L2205.1 547.9 L2206.6 536.6 L2208.0 549.8 L2209.3 562.1 L2210.7 571.8 L2212.2 590.7 L2213.8 611.1 L2215.2 614.7 L2216.6 615.9 L2218.0 617.3 L2219.4 606.7 L2220.7 591.2 L2222.1 580.0 L2223.5 581.6 L2224.9 582.9 L2226.3 582.1 L2227.7 575.1 L2229.0 566.5 L2230.4 561.4 L2231.9 560.1 L2233.5 561.4 L2234.8 569.7 L2236.1 579.3 L2237.4 589.3 L2238.7 600.7 L2240.0 604.3 L2241.2 605.2 L2242.5 611.2 L2243.8 613.2 L2245.2 616.6 L2246.6 619.4 L2248.0 620.4 L2249.6 599.5 L2251.1 576.0 L2252.5 572.1 L2253.8 568.1 L2255.2 561.4 L2257.2 558.9 L2258.8 550.4 L2260.5 537.9 L2261.8 538.0 L2263.1 539.1 L2264.4 536.6 L2265.7 520.4 L2267.1 506.0 L2268.4 493.3 L2270.3 485.4 L2271.7 486.8 L2273.0 492.0 L2274.3 484.2 L2275.6 478.9 L2277.2 486.8 L2278.9 495.9 L2280.5 489.2 L2282.1 482.8 L2283.8 482.3 L2285.4 480.2 L2286.9 483.9 L2288.5 483.6 L2290.0 488.0 L2292.0 477.5 L2293.3 478.8 L2294.6 481.2 L2295.9 482.8 L2297.2 443.4 L2298.7 439.8 L2300.3 435.7 L2301.8 434.3 L2303.8 464.4 L2305.4 471.4 L2307.0 477.5 L2308.3 478.3 L2309.7 480.2 L2311.0 471.2 L2312.3 460.5 L2313.9 459.8 L2315.6 459.2 L2316.9 474.9 L2318.2 484.8 L2319.5 490.7 L2321.5 514.3 L2322.8 504.5 L2324.1 490.7 L2325.8 499.3 L2327.4 511.6 L2328.7 512.7 L2330.0 511.6 L2332.0 472.3 L2333.3 472.0 L2334.6 469.7 L2335.9 464.2 L2337.2 460.5 L2338.7 458.8 L2340.3 460.4 L2341.8 460.5 L2343.1 461.8 L2344.4 464.4 L2345.7 456.2 L2347.0 446.0 L2349.0 443.4 L2351.0 448.7 L2352.3 439.4 L2353.6 426.4 L2355.1 425.9 L2356.7 425.5 L2358.2 426.4 L2359.5 429.7 L2360.8 433.0 L2362.1 422.7 L2363.4 410.7 L2364.7 415.2 L2366.0 417.2 L2368.0 402.8 L2369.5 402.3 L2371.1 400.2 L2372.6 400.2 L2374.6 391.0 L2375.9 389.8 L2377.2 391.7 L2378.5 389.7 L2379.8 393.7 L2381.1 397.5 L2382.4 397.5 L2383.8 401.5 L2385.1 414.9 L2386.4 429.0 L2387.7 419.3 L2389.0 412.0 L2390.3 420.6 L2391.6 427.7 L2392.9 416.0 L2394.3 408.0 L2395.6 415.5 L2396.9 425.0 L2398.2 408.8 L2399.5 396.2 L2400.8 404.7 L2402.1 413.3 L2403.4 420.0 L2404.8 422.5 L2406.1 416.1 L2407.4 409.3 L2409.0 409.5 L2410.6 410.7 L2412.6 438.2 L2414.2 442.1 L2415.9 442.1 L2416.6 422.5 L2417.9 427.9 L2419.2 436.9 L2420.5 435.8 L2421.8 437.4 L2423.1 435.6 L2424.4 431.1 L2425.8 432.2 L2427.1 428.1 L2428.4 426.4 L2429.7 424.7 L2431.0 426.2 L2432.3 427.7 L2434.3 451.3 L2435.6 453.1 L2436.9 455.2 L2438.2 447.5 L2439.5 440.8 L2440.8 443.5 L2442.1 446.0 L2444.1 472.3 L2446.1 490.7 L2447.7 489.4 L2449.3 492.0 L2451.3 474.9 L2452.8 473.2 L2454.4 476.1 L2455.9 473.6 L2457.2 480.5 L2458.5 488.0 L2460.5 498.5 L2461.1 544.4 L2462.4 547.6 L2463.8 551.0 L2465.1 547.8 L2466.4 547.4 L2467.7 547.0 L2469.0 542.5 L2470.3 534.0 L2471.6 531.8 L2473.0 527.9 L2474.3 524.8 L2476.2 518.2 L2478.2 503.8 L2479.8 492.6 L2481.5 485.4 L2483.1 495.2 L2484.6 506.0 L2486.1 501.2 L2487.6 493.6 L2489.1 487.8 L2491.4 508.3 L2492.9 516.3 L2494.5 525.2 L2496.0 531.0 L2497.5 529.4 L2499.0 527.1 L2500.5 524.3 L2502.0 514.7 L2503.5 507.0 L2505.0 501.5 L2506.2 506.5 L2507.3 508.8 L2508.5 513.0 L2509.7 523.7 L2510.8 532.6 L2512.0 540.2 L2513.7 535.2 L2515.3 526.5 L2516.8 529.8 L2518.4 536.4 L2519.9 538.0 L2521.6 524.3 L2523.3 508.3 L2524.8 507.8 L2526.3 502.2 L2527.8 501.5 L2529.3 498.9 L2530.9 493.5 L2532.4 490.0 L2534.1 484.2 L2535.8 474.2 L2537.3 474.8 L2538.9 469.9 L2540.4 469.6 L2541.9 467.0 L2543.5 464.1 L2545.0 462.8 L2546.7 474.0 L2548.3 485.5 L2550.6 478.7 L2552.3 488.0 L2554.0 499.2 L2555.5 499.2 L2557.1 496.1 L2558.6 497.0 L2560.3 493.2 L2562.0 492.4 L2563.5 495.2 L2565.0 496.6 L2566.5 501.5 L2568.0 501.7 L2569.5 504.8 L2571.0 503.8 L2572.2 510.0 L2573.3 511.5 L2574.5 517.4 L2575.7 512.2 L2576.8 512.8 L2578.0 508.3 L2579.7 519.4 L2581.3 526.5 L2582.5 531.5 L2583.6 534.0 L2584.8 540.2 L2587.0 576.6 L2588.2 582.3 L2589.3 592.1 L2590.5 597.1 L2592.7 583.5 L2594.4 594.5 L2596.1 601.7 L2597.6 596.6 L2599.2 594.2 L2600.7 592.6 L2602.4 595.7 L2604.1 599.4 L2606.4 626.7 L2608.1 610.9 L2609.8 597.1 L2612.1 620.0 L2613.6 619.6 L2615.1 616.4 L2616.6 615.4 L2618.1 618.1 L2619.7 616.9 L2621.2 620.0 L2623.5 656.4 L2625.8 708.7 L2628.0 711.0 L2629.9 745.2 L2631.4 756.6 L2633.7 729.2 L2635.2 737.3 L2636.7 745.2 L2638.3 708.7 L2640.0 713.1 L2641.7 713.3 L2643.2 724.8 L2644.7 732.8 L2646.2 745.2 L2647.7 737.4 L2649.3 733.7 L2650.8 727.0 L2652.5 717.3 L2654.2 708.7 L2655.7 721.0 L2657.3 734.4 L2658.8 747.4 L2660.5 730.7 L2662.2 713.3 L2663.9 684.6 L2665.6 651.8 L2667.3 650.7 L2669.0 651.8 L2670.7 662.4 L2672.4 672.3 L2673.6 656.8 L2674.7 643.6 L2675.9 629.0 L2677.4 631.6 L2678.9 630.5 L2680.4 633.6 L2681.9 637.3 L2683.5 642.1 L2685.0 645.0 L2686.7 634.8 L2688.4 629.0 L2689.8 627.1 L2691.1 622.4 L2692.5 619.6 L2693.7 612.2 L2695.0 605.2 L2696.2 597.3 L2697.8 607.9 L2699.3 615.9 L2700.9 611.4 L2702.4 610.9 L2704.3 640.7 L2705.5 647.0 L2707.1 640.8 L2708.6 634.5 L2710.5 661.9 L2711.8 664.8 L2713.0 671.8 L2714.6 661.4 L2716.1 652.0 L2717.3 649.7 L2718.6 646.6 L2719.8 647.0 L2721.0 645.3 L2722.3 645.1 L2723.5 644.5 L2724.8 637.7 L2726.0 631.4 L2727.3 622.1 L2728.5 623.2 L2729.8 625.6 L2731.0 627.1 L2732.6 639.2 L2734.1 649.4 L2736.0 668.0 L2737.5 678.0 L2739.0 684.2 L2740.3 695.5 L2741.6 702.9 L2743.1 698.8 L2744.7 690.4 L2745.9 690.0 L2747.2 689.8 L2748.4 691.7 L2749.6 695.7 L2750.8 694.0 L2752.0 697.9 L2753.3 690.8 L2754.6 684.2 L2755.8 689.0 L2757.0 691.7 L2758.3 691.8 L2759.5 691.2 L2760.8 691.7 L2762.0 696.9 L2763.3 697.4 L2764.5 701.6 L2765.8 700.6 L2767.0 700.6 L2768.3 697.9 L2769.5 690.1 L2770.7 685.5 L2772.0 689.4 L2773.2 694.5 L2774.5 699.1 L2775.7 696.1 L2777.0 691.2 L2778.2 689.2 L2779.4 672.8 L2780.7 656.9 L2781.9 650.0 L2783.2 647.0 L2784.8 645.2 L2786.3 647.0 L2788.1 661.9 L2789.3 651.9 L2790.6 643.2 L2791.8 640.4 L2793.1 640.7 L2794.3 649.6 L2795.6 654.4 L2796.8 696.6 L2797.5 732.7 L2799.3 702.9 L2800.5 701.0 L2801.8 700.2 L2803.0 700.4 L2804.6 709.7 L2806.1 716.5 L2807.6 723.0 L2809.0 726.3 L2810.5 732.7 L2812.4 711.6 L2813.9 714.2 L2815.5 714.0 L2816.7 712.1 L2818.0 708.6 L2819.2 706.6 L2820.4 702.8 L2821.7 697.9 L2822.9 696.8 L2824.2 696.9 L2825.4 697.9 L2826.7 700.5 L2827.9 699.5 L2829.2 702.4 L2830.4 701.6 L2831.7 698.9 L2832.9 699.1 L2834.1 690.7 L2835.3 685.5 L2836.5 686.4 L2837.8 692.4 L2839.0 694.2 L2840.3 720.2 L2841.5 720.5 L2842.8 718.0 L2844.0 720.2 L2845.3 714.9 L2846.5 715.0 L2847.8 710.3 L2849.0 709.4 L2850.3 710.3 L2851.5 707.8 L2852.8 712.6 L2854.0 721.5 L2855.5 717.5 L2857.0 712.8 L2858.5 709.1 L2859.9 709.6 L2861.4 706.6 L2862.7 705.2 L2863.9 703.3 L2865.2 699.7 L2866.4 699.1 L2867.6 695.3 L2868.8 685.8 L2870.0 681.7 L2871.3 672.9 L2872.6 668.0 L2873.8 660.8 L2875.0 652.0 L2876.5 646.0 L2877.9 641.8 L2879.4 639.5 L2880.7 645.6 L2882.0 652.0 L2883.4 651.4 L2884.8 651.2 L2886.1 649.2 L2887.5 647.0 L2888.8 644.8 L2890.0 647.0 L2891.2 647.5 L2892.5 645.7 L2893.7 641.6 L2895.0 641.9 L2896.2 638.3 L2897.5 635.1 L2898.7 633.2 L2900.0 632.0 L2901.5 636.1 L2903.0 644.5 L2904.6 656.2 L2906.1 665.6 L2907.3 659.5 L2908.6 653.2 L2910.1 644.4 L2911.7 632.0 L2913.1 630.2 L2914.6 627.2 L2916.0 627.1 L2917.3 630.8 L2918.5 636.0 L2919.8 642.0 L2921.0 646.4 L2922.3 645.6 L2923.5 649.4 L2925.4 633.3 L2926.7 635.8 L2927.9 642.0 L2929.4 646.4 L2931.0 652.0 L2932.6 660.0 L2934.1 671.8 L2935.8 675.6 L2937.4 680.0 L2939.7 634.5 L2941.7 639.4 L2943.3 623.9 L2944.6 621.9 L2945.9 619.4 L2947.2 616.2 L2948.8 627.2 L2950.3 623.6 L2951.7 621.2 L2953.2 620.6 L2954.9 624.4 L2956.6 628.3 L2957.9 624.7 L2959.3 619.5 L2960.7 618.2 L2962.1 617.3 L2963.8 613.2 L2965.4 608.5 L2967.1 610.3 L2968.7 608.5 L2970.3 609.1 L2972.0 612.9 L2974.2 601.8 L2976.4 580.9 L2977.8 577.1 L2979.2 575.3 L2980.6 579.7 L2982.0 584.2 L2984.2 601.8 L2986.4 610.7 L2988.6 616.2 L2990.8 600.7 L2992.2 601.4 L2993.5 601.8 L2995.2 609.6 L2996.8 605.8 L2998.5 598.5 L3000.2 598.7 L3001.8 598.5 L3003.5 610.7 L3004.8 613.6 L3006.2 615.1 L3007.9 616.9 L3009.6 619.5 L3011.1 620.0 L3012.5 619.5 L3014.0 617.3 L3015.4 616.4 L3016.8 615.6 L3018.1 616.2 L3019.5 617.3 L3021.0 615.9 L3022.4 617.5 L3023.9 615.1 L3025.6 607.4 L3027.2 601.8 L3028.7 602.7 L3030.1 603.2 L3031.6 602.9 L3033.1 606.8 L3034.5 604.9 L3036.0 608.5 L3037.5 610.4 L3039.0 609.2 L3040.5 610.7 L3041.8 611.2 L3043.2 615.1 L3044.9 637.2 L3046.4 634.4 L3047.8 632.0 L3049.3 627.2 L3050.8 624.3 L3052.2 618.6 L3053.7 617.3 L3054.8 605.1 L3056.3 607.5 L3057.7 605.3 L3059.2 606.2 L3060.6 604.6 L3062.0 602.8 L3063.4 598.5 L3064.8 597.4 L3066.3 596.3 L3067.7 595.2 L3069.2 595.2 L3070.8 601.2 L3072.5 610.7 L3074.2 613.2 L3075.8 619.5 L3077.4 616.1 L3079.1 610.7 L3080.8 607.0 L3082.4 604.0 L3083.9 608.2 L3085.3 607.3 L3086.8 611.8 L3088.3 610.6 L3089.8 609.7 L3091.3 610.7 L3092.9 613.2 L3094.6 611.8 L3096.1 612.7 L3097.5 612.8 L3099.0 610.7 L3100.5 609.2 L3101.9 606.0 L3103.4 606.2 L3105.6 612.9 L3107.1 612.5 L3108.5 611.7 L3110.0 612.9 L3111.4 610.8 L3112.8 613.2 L3114.2 612.0 L3115.6 612.9 L3117.2 613.4 L3118.9 617.3 L3120.5 635.0 L3121.9 636.7 L3123.3 638.3 L3124.9 637.4 L3126.6 632.7 L3128.3 638.0 L3130.0 639.4 L3131.3 636.7 L3132.5 632.5 L3133.8 631.6 L3135.1 635.7 L3136.3 635.8 L3137.6 640.5 L3139.0 640.7 L3140.4 638.7 L3141.8 642.6 L3143.2 640.5 L3144.8 642.9 L3146.5 644.9 L3148.2 647.4 L3149.8 650.4 L3151.4 645.0 L3153.1 641.6 L3154.8 642.9 L3156.4 643.8 L3158.1 647.0 L3159.7 646.0 L3161.2 646.4 L3162.6 646.2 L3164.1 648.2 L3165.8 645.0 L3167.4 641.6 L3168.9 640.1 L3170.4 634.4 L3171.9 631.6 L3173.6 636.1 L3175.2 639.4 L3176.6 642.3 L3177.9 640.8 L3179.3 644.1 L3180.7 643.8 L3182.3 650.0 L3184.0 655.9 L3185.5 653.2 L3186.9 651.7 L3188.4 652.6 L3189.8 654.0 L3191.2 651.4 L3192.6 650.7 L3194.0 650.4 L3195.7 639.0 L3197.3 623.9 L3198.8 622.8 L3200.2 621.0 L3201.7 619.5 L3203.1 618.0 L3204.4 619.5 L3205.8 616.8 L3207.2 617.3 L3208.6 614.4 L3209.9 612.9 L3211.3 609.4 L3212.7 606.2 L3214.3 592.5 L3216.0 582.0 L3217.2 582.8 L3218.7 582.5 L3220.1 585.6 L3221.6 585.7 L3222.8 588.1 L3223.9 586.8 L3225.1 592.2 L3226.2 589.8 L3227.4 592.9 L3228.8 589.0 L3230.3 586.3 L3231.7 585.7 L3233.0 585.3 L3234.2 585.9 L3235.5 586.7 L3236.8 585.0 L3239.0 594.3 L3240.4 586.6 L3241.9 582.6 L3243.3 575.5 L3244.8 567.5 L3246.2 563.3 L3247.7 556.7 L3248.9 555.3 L3250.0 555.5 L3251.2 553.8 L3252.3 556.5 L3253.5 555.2 L3254.9 562.9 L3256.4 574.0 L3257.9 569.4 L3259.3 562.5 L3260.8 569.0 L3262.2 577.0 L3263.6 571.1 L3265.1 565.0 L3266.5 558.1 L3268.0 557.6 L3269.4 558.8 L3270.9 556.7 L3272.1 561.4 L3273.3 561.5 L3274.5 565.4 L3275.7 562.2 L3276.9 562.2 L3278.1 558.1 L3279.6 558.4 L3281.0 561.6 L3282.5 563.9 L3283.9 568.6 L3285.4 574.0 L3286.9 555.8 L3288.3 533.5 L3289.5 532.3 L3290.7 535.1 L3291.9 534.9 L3293.3 536.5 L3294.8 536.9 L3296.2 536.4 L3298.4 546.5 L3299.9 544.8 L3301.3 549.5 L3302.8 548.0 L3304.2 558.8 L3305.7 571.2 L3307.1 568.8 L3308.6 563.9 L3310.0 558.9 L3311.4 555.2 L3312.6 557.8 L3313.7 558.3 L3314.9 558.0 L3316.0 560.9 L3317.2 561.0 L3318.7 556.7 L3320.1 553.3 L3321.6 548.0 L3323.1 546.1 L3324.5 544.4 L3326.0 540.7 L3327.4 520.4 L3328.9 516.0 L3330.3 514.6 L3331.7 509.7 L3333.2 502.7 L3334.6 500.1 L3336.1 503.6 L3337.5 504.5 L3339.0 498.5 L3340.4 491.5 L3341.9 482.8 L3343.3 476.9 L3344.8 475.2 L3346.2 471.2 L3347.7 467.2 L3349.1 461.8 L3350.6 459.6 L3352.1 448.1 L3353.5 439.3 L3354.9 438.5 L3356.4 435.1 L3357.8 430.6 L3359.3 429.9 L3360.7 433.0 L3362.2 432.0 L3363.6 445.1 L3365.1 454.5 L3366.5 462.5 L3368.7 485.7 L3370.0 478.7 L3371.2 473.3 L3372.5 464.9 L3373.8 459.6 L3375.2 458.6 L3376.7 457.4 L3378.1 459.6 L3379.6 459.3 L3381.0 458.0 L3382.5 456.7 L3383.9 484.2 L3385.4 483.1 L3386.8 479.9 L3388.3 471.2 L3389.7 462.2 L3391.2 453.8 L3392.6 457.3 L3394.0 462.5 L3395.5 480.9 L3397.0 497.2 L3398.4 497.6 L3399.9 499.6 L3401.3 500.1 L3402.8 498.3 L3404.2 494.1 L3405.7 491.4 L3407.1 489.4 L3408.6 483.7 L3410.0 482.8 L3411.4 480.8 L3412.9 482.4 L3414.3 479.9 L3415.8 490.6 L3417.2 504.5 L3418.4 499.4 L3419.5 496.0 L3420.7 496.1 L3421.8 490.0 L3423.0 488.6 L3424.5 494.2 L3425.9 499.9 L3427.4 505.9 L3428.6 507.2 L3429.7 505.8 L3430.9 506.0 L3432.0 503.8 L3433.2 505.9 L3434.6 502.4 L3436.1 497.4 L3437.5 491.4 L3439.0 446.5 L3440.4 446.3 L3441.9 445.1 L3443.1 444.3 L3444.2 441.0 L3445.4 439.1 L3446.5 437.4 L3447.7 433.5 L3448.9 438.8 L3450.1 441.1 L3451.3 448.0 L3452.6 447.1 L3453.9 445.1 L3455.1 439.0 L3456.4 437.8 L3457.6 438.5 L3458.7 442.3 L3459.9 443.9 L3461.0 447.7 L3462.2 450.9 L3463.6 456.3 L3465.0 465.4 L3466.2 462.3 L3467.3 459.5 L3468.5 459.6 L3469.6 457.2 L3470.8 456.2 L3472.1 456.4 L3473.3 454.6 L3474.9 459.9 L3476.6 466.2 L3478.3 469.7 L3480.0 476.1 L3481.6 473.9 L3483.2 467.8 L3484.4 469.7 L3485.5 469.0 L3486.7 467.1 L3487.8 468.1 L3489.0 468.7 L3490.2 478.8 L3491.5 489.4 L3492.8 495.6 L3494.0 502.6 L3495.2 498.0 L3496.5 497.5 L3497.8 496.4 L3499.0 492.7 L3500.4 490.2 L3501.7 487.6 L3503.1 482.7 L3504.8 467.8 L3506.0 467.8 L3507.2 467.3 L3508.5 467.0 L3509.7 464.5 L3510.9 463.9 L3512.2 459.6 L3513.4 472.4 L3514.7 482.7 L3516.1 479.6 L3517.5 477.9 L3518.9 474.5 L3520.3 478.5 L3521.6 482.8 L3523.0 484.4 L3524.7 496.1 L3526.3 505.9 L3528.0 539.0 L3529.2 547.1 L3530.5 555.6 L3532.1 529.1 L3533.8 523.6 L3535.4 520.8 L3536.8 525.0 L3538.2 529.6 L3539.6 535.7 L3540.8 534.0 L3542.1 531.9 L3543.3 526.9 L3544.5 525.8 L3545.8 524.3 L3547.0 524.0 L3548.2 520.3 L3549.5 519.2 L3551.2 524.0 L3552.8 532.4 L3554.5 542.4 L3555.8 542.9 L3557.1 541.8 L3558.5 540.8 L3559.8 541.5 L3561.1 542.4 L3562.8 552.6 L3564.4 567.2 L3565.7 561.9 L3566.9 559.4 L3568.2 554.3 L3569.4 552.3 L3570.8 549.0 L3572.1 550.3 L3573.5 549.0 L3574.9 556.5 L3576.3 561.5 L3577.7 565.6 L3579.3 546.6 L3581.0 529.1 L3582.2 530.1 L3583.4 525.6 L3584.7 525.1 L3585.9 525.8 L3587.6 521.1 L3589.2 520.8 L3590.9 529.7 L3592.6 542.4 L3594.2 550.3 L3595.9 557.3 L3597.1 556.4 L3598.4 553.1 L3599.6 552.4 L3600.8 549.0 L3602.1 548.8 L3603.3 550.8 L3604.6 549.5 L3605.8 549.0 L3607.4 536.8 L3609.1 524.2 L3610.8 526.9 L3612.4 532.4 L3613.8 528.8 L3615.2 525.5 L3616.6 522.5 L3618.2 535.5 L3619.9 545.7 L3621.3 543.9 L3622.6 543.7 L3624.0 544.0 L3625.2 540.4 L3626.5 532.2 L3627.8 529.3 L3629.0 524.2 L3630.7 538.7 L3632.3 555.6 L3633.9 549.7 L3635.6 542.4 L3637.3 505.9 L3638.9 489.8 L3640.6 472.8 L3642.2 481.8 L3643.9 494.3 L3645.6 491.2 L3647.2 486.0 L3648.4 485.6 L3649.7 485.2 L3650.9 487.6 L3652.2 486.0 L3653.8 467.8 L3655.5 473.2 L3657.2 476.1 L3658.4 465.3 L3659.6 456.2 L3661.0 454.8 L3662.4 450.1 L3663.8 449.6 L3665.4 453.0 L3667.1 456.2 L3668.3 442.0 L3669.6 431.4 L3671.2 432.0 L3672.9 431.4 L3674.2 444.0 L3675.4 452.9 L3677.1 445.2 L3678.7 436.4 L3680.3 431.0 L3682.0 429.7 L3683.7 447.2 L3685.3 464.5 L3686.6 470.2 L3687.8 476.1 L3689.1 472.9 L3690.3 468.8 L3691.6 466.4 L3692.8 464.5 L3694.2 467.6 L3695.5 469.3 L3696.9 474.5 L3698.6 474.4 L3700.2 472.8 L3701.8 460.9 L3703.5 451.3 L3705.2 451.2 L3706.8 452.9 L3708.4 464.3 L3710.1 479.4 L3711.8 481.0 L3713.5 484.4 L3715.2 478.0 L3716.8 467.8 L3718.4 474.3 L3720.1 482.7 L3721.8 475.2 L3723.4 471.2 L3724.7 472.2 L3725.9 476.5 L3727.2 474.3 L3728.4 477.8 L3729.7 487.0 L3730.9 497.6 L3732.3 490.3 L3733.6 486.3 L3735.0 479.4 L3736.7 492.5 L3738.3 505.9 L3740.0 517.5 L3741.2 521.5 L3742.4 529.1" stroke="#71707e" stroke-width="5.6" fill="none" stroke-linejoin="miter" stroke-miterlimit="3"/>
<rect x="255" y="2050.2" width="3522.5" height="2.6" fill="#43414c"/>
<rect x="232" y="312" width="6" height="1738" fill="#3b29ac"/>
<rect x="3795" y="312" width="5" height="1738" fill="#71707e"/>
<rect x="332.55" y="2052" width="2.5" height="23" fill="#2f2e36"/>
<text transform="matrix(0.9583 0 0 1.0552 251.38 2125.8)" font-size="42" fill="#9a98a3">2017 Jan</text>
<rect x="540.97" y="2052" width="2.5" height="23" fill="#2f2e36"/>
<text transform="matrix(0.9675 0 0 1.0 465.79 2125.8)" font-size="42" fill="#9a98a3">2017 Jul</text>
<rect x="752.85" y="2052" width="2.5" height="23" fill="#2f2e36"/>
<text transform="matrix(0.9583 0 0 1.0552 671.68 2125.8)" font-size="42" fill="#9a98a3">2018 Jan</text>
<rect x="961.27" y="2052" width="2.5" height="23" fill="#2f2e36"/>
<text transform="matrix(0.9675 0 0 1.0 886.09 2125.8)" font-size="42" fill="#9a98a3">2018 Jul</text>
<rect x="1173.15" y="2052" width="2.5" height="23" fill="#2f2e36"/>
<text transform="matrix(0.9583 0 0 1.0552 1091.99 2125.8)" font-size="42" fill="#9a98a3">2019 Jan</text>
<rect x="1381.58" y="2052" width="2.5" height="23" fill="#2f2e36"/>
<text transform="matrix(0.9675 0 0 1.0 1306.39 2125.8)" font-size="42" fill="#9a98a3">2019 Jul</text>
<rect x="1593.45" y="2052" width="2.5" height="23" fill="#2f2e36"/>
<text transform="matrix(0.9964 0 0 1.0552 1509.01 2125.8)" font-size="42" fill="#9a98a3">2020 Jan</text>
<rect x="1803.03" y="2052" width="2.5" height="23" fill="#2f2e36"/>
<text transform="matrix(1.0032 0 0 1.0 1725.02 2125.8)" font-size="42" fill="#9a98a3">2020 Jul</text>
<rect x="2014.91" y="2052" width="2.5" height="23" fill="#2f2e36"/>
<text transform="matrix(0.9583 0 0 1.0552 1933.74 2125.8)" font-size="42" fill="#9a98a3">2021 Jan</text>
<rect x="2223.33" y="2052" width="2.5" height="23" fill="#2f2e36"/>
<text transform="matrix(0.9675 0 0 1.0 2148.14 2125.8)" font-size="42" fill="#9a98a3">2021 Jul</text>
<rect x="2435.21" y="2052" width="2.5" height="23" fill="#2f2e36"/>
<text transform="matrix(0.9964 0 0 1.0552 2350.76 2125.8)" font-size="42" fill="#9a98a3">2022 Jan</text>
<rect x="2643.63" y="2052" width="2.5" height="23" fill="#2f2e36"/>
<text transform="matrix(1.0032 0 0 1.0 2565.62 2125.8)" font-size="42" fill="#9a98a3">2022 Jul</text>
<rect x="2855.51" y="2052" width="2.5" height="23" fill="#2f2e36"/>
<text transform="matrix(0.9964 0 0 1.0552 2771.07 2125.8)" font-size="42" fill="#9a98a3">2023 Jan</text>
<rect x="3063.93" y="2052" width="2.5" height="23" fill="#2f2e36"/>
<text transform="matrix(1.0032 0 0 1.0 2985.93 2125.8)" font-size="42" fill="#9a98a3">2023 Jul</text>
<rect x="3275.81" y="2052" width="2.5" height="23" fill="#2f2e36"/>
<text transform="matrix(0.9964 0 0 1.0552 3191.37 2125.8)" font-size="42" fill="#9a98a3">2024 Jan</text>
<rect x="3485.38" y="2052" width="2.5" height="23" fill="#2f2e36"/>
<text transform="matrix(1.0032 0 0 1.0 3407.38 2125.8)" font-size="42" fill="#9a98a3">2024 Jul</text>
<rect x="3697.26" y="2052" width="2.5" height="23" fill="#2f2e36"/>
<text transform="matrix(0.9964 0 0 1.0552 3612.82 2125.8)" font-size="42" fill="#9a98a3">2025 Jan</text>
<text transform="matrix(0.9949 0 0 0.9868 77.61 472.51)" font-size="52" fill="#f7f6fb">320K</text>
<text transform="matrix(1.0051 0 0 0.9684 76.58 869.33)" font-size="52" fill="#f7f6fb">240K</text>
<text transform="matrix(0.9638 0 0 0.9684 81.54 1269.33)" font-size="52" fill="#f7f6fb">160K</text>
<text transform="matrix(1.0079 0 0 0.9711 105.48 1667.33)" font-size="52" fill="#f7f6fb">80K</text>
<text transform="matrix(1.04 0 0 0.9658 166.92 2064.53)" font-size="52" fill="#f7f6fb">0</text>
<text transform="matrix(0.9468 0 0 1.0111 3835.85 447.7)" font-size="52" fill="#f7f6fb">4K</text>
<text transform="matrix(0.9617 0 0 1.0054 3834.21 610.2)" font-size="52" fill="#f7f6fb">2K</text>
<text transform="matrix(0.8746 0 0 1.0056 3833.1 773.0)" font-size="52" fill="#f7f6fb">1K</text>
<text transform="matrix(1.0417 0 0 0.9711 3835.46 987.33)" font-size="52" fill="#f7f6fb">400</text>
<text transform="matrix(1.0366 0 0 1.0053 3833.99 1149.99)" font-size="52" fill="#f7f6fb">200</text>
<text transform="matrix(0.9593 0 0 0.9868 3832.76 1311.71)" font-size="52" fill="#f7f6fb">100</text>
<text transform="matrix(1.0545 0 0 0.9868 3835.45 1525.01)" font-size="52" fill="#f7f6fb">40</text>
<text transform="matrix(1.0472 0 0 0.9868 3833.96 1687.81)" font-size="52" fill="#f7f6fb">20</text>
<text transform="matrix(0.9269 0 0 0.9895 3832.89 1849.81)" font-size="52" fill="#f7f6fb">10</text>
<text transform="matrix(1.0577 0 0 1.0222 3835.44 2065.2)" font-size="52" fill="#f7f6fb">4</text>
<text transform="matrix(0.9307 0 0 0.9629 1213.35 143.54)" font-size="83" font-weight="bold" fill="#f7f6fb">ETH: Inflows into Accumulation Addresses</text>
<circle cx="1810" cy="220" r="25" fill="#3b29ac"/>
<text transform="matrix(0.9731 0 0 0.9872 1851.58 243.01)" font-size="52" fill="#f7f6fb">inflow</text>
<rect x="2039" y="227" width="60" height="6" fill="#71707e"/>
<text transform="matrix(1.0 0 0 0.949 2110.0 241.56)" font-size="52" fill="#f7f6fb">price</text>
<line x1="2942.8" y1="694.7" x2="3339.3" y2="419.4" stroke="#ffffff" stroke-width="5.6"/>
<polygon points="3363.9,402.3 3346.5,433.3 3328.8,407.8" fill="#ffffff"/>
<line x1="3549.8" y1="610.6" x2="3638.8" y2="432.5" stroke="#ffffff" stroke-width="5.6"/>
<polygon points="3652.2,405.7 3651.8,441.3 3624.0,427.4" fill="#ffffff"/>
<text transform="matrix(0.8936 0 0 0.9286 3400.11 2192.57)" font-size="37" fill="#9a98a3">© CryptoQuant. All rights reserved</text>
</svg></body></html>
